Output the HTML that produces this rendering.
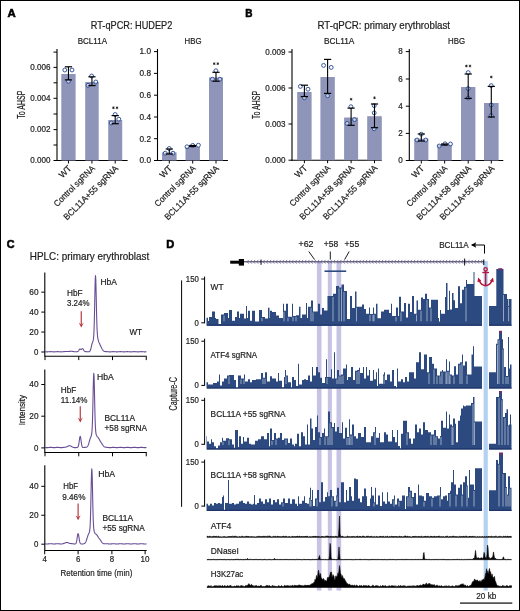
<!DOCTYPE html>
<html><head><meta charset="utf-8"><style>
html,body{margin:0;padding:0;background:#fff;}
svg{display:block;font-family:"Liberation Sans", sans-serif;will-change:transform;} text{stroke:#222;stroke-width:0.2px;}
</style></head><body>
<svg width="520" height="611" viewBox="0 0 520 611">
<rect x="0" y="0" width="520" height="611" fill="#fff"/>
<text x="7.6" y="16.9" font-size="10.50" text-anchor="start" font-weight="bold" fill="#000" textLength="8.2" lengthAdjust="spacingAndGlyphs" style="stroke:#000;stroke-width:0.55px">A</text>
<text x="245.2" y="16.9" font-size="10.00" text-anchor="start" font-weight="bold" fill="#000" style="stroke:#000;stroke-width:0.55px">B</text>
<text x="6.8" y="247.8" font-size="10.50" text-anchor="start" font-weight="bold" fill="#000" textLength="7.8" lengthAdjust="spacingAndGlyphs" style="stroke:#000;stroke-width:0.55px">C</text>
<text x="166.2" y="248.4" font-size="10.50" text-anchor="start" font-weight="bold" fill="#000" textLength="8" lengthAdjust="spacingAndGlyphs" style="stroke:#000;stroke-width:0.55px">D</text>
<text x="90.8" y="28.7" font-size="10.34" text-anchor="start" font-weight="normal" fill="#1a1a1a" textLength="81.5" lengthAdjust="spacingAndGlyphs" >RT-qPCR: HUDEP2</text>
<text x="317.5" y="28.7" font-size="10.34" text-anchor="start" font-weight="normal" fill="#1a1a1a" textLength="132.5" lengthAdjust="spacingAndGlyphs" >RT-qPCR: primary erythroblast</text>
<text x="77.7" y="44.2" font-size="8.80" text-anchor="start" font-weight="normal" fill="#1a1a1a" textLength="29.3" lengthAdjust="spacingAndGlyphs" >BCL11A</text>
<line x1="57" y1="49" x2="57" y2="161.0" stroke="#000" stroke-width="1.1"/>
<line x1="53.5" y1="52.1" x2="57" y2="52.1" stroke="#000" stroke-width="1"/>
<line x1="53.5" y1="67.4" x2="57" y2="67.4" stroke="#000" stroke-width="1"/>
<text x="50.5" y="70.2" font-size="8.58" text-anchor="end" font-weight="normal" fill="#1a1a1a" textLength="20.2" lengthAdjust="spacingAndGlyphs" >0.006</text>
<line x1="53.5" y1="82.8" x2="57" y2="82.8" stroke="#000" stroke-width="1"/>
<line x1="53.5" y1="98.3" x2="57" y2="98.3" stroke="#000" stroke-width="1"/>
<text x="50.5" y="101.1" font-size="8.58" text-anchor="end" font-weight="normal" fill="#1a1a1a" textLength="20.2" lengthAdjust="spacingAndGlyphs" >0.004</text>
<line x1="53.5" y1="114" x2="57" y2="114" stroke="#000" stroke-width="1"/>
<line x1="53.5" y1="129.6" x2="57" y2="129.6" stroke="#000" stroke-width="1"/>
<text x="50.5" y="132.4" font-size="8.58" text-anchor="end" font-weight="normal" fill="#1a1a1a" textLength="20.2" lengthAdjust="spacingAndGlyphs" >0.002</text>
<line x1="53.5" y1="145" x2="57" y2="145" stroke="#000" stroke-width="1"/>
<line x1="53.5" y1="160.5" x2="57" y2="160.5" stroke="#000" stroke-width="1"/>
<text x="50.5" y="163.3" font-size="8.58" text-anchor="end" font-weight="normal" fill="#1a1a1a" textLength="20.2" lengthAdjust="spacingAndGlyphs" >0.000</text>
<line x1="56.5" y1="160.5" x2="127.6" y2="160.5" stroke="#000" stroke-width="1.1"/>
<rect x="61.3" y="74" width="14.299999999999997" height="86.5" fill="#8e95b9"/>
<line x1="68.44999999999999" y1="160.5" x2="68.44999999999999" y2="163.5" stroke="#000" stroke-width="1"/>
<rect x="85.2" y="82" width="13.5" height="78.5" fill="#8e95b9"/>
<line x1="91.95" y1="160.5" x2="91.95" y2="163.5" stroke="#000" stroke-width="1"/>
<rect x="108.2" y="120" width="14.0" height="40.5" fill="#8e95b9"/>
<line x1="115.2" y1="160.5" x2="115.2" y2="163.5" stroke="#000" stroke-width="1"/>
<circle cx="64.8" cy="70" r="1.95" fill="#fff" fill-opacity="0.5" stroke="#2f4f97" stroke-width="0.95"/>
<circle cx="72" cy="70" r="1.95" fill="#fff" fill-opacity="0.5" stroke="#2f4f97" stroke-width="0.95"/>
<circle cx="68.4" cy="81.3" r="1.95" fill="#fff" fill-opacity="0.5" stroke="#2f4f97" stroke-width="0.95"/>
<circle cx="91.6" cy="76" r="1.95" fill="#fff" fill-opacity="0.5" stroke="#2f4f97" stroke-width="0.95"/>
<circle cx="95.8" cy="82" r="1.95" fill="#fff" fill-opacity="0.5" stroke="#2f4f97" stroke-width="0.95"/>
<circle cx="88" cy="85.3" r="1.95" fill="#fff" fill-opacity="0.5" stroke="#2f4f97" stroke-width="0.95"/>
<circle cx="115.2" cy="114.5" r="1.95" fill="#fff" fill-opacity="0.5" stroke="#2f4f97" stroke-width="0.95"/>
<circle cx="118.8" cy="119.2" r="1.95" fill="#fff" fill-opacity="0.5" stroke="#2f4f97" stroke-width="0.95"/>
<circle cx="111.2" cy="123" r="1.95" fill="#fff" fill-opacity="0.5" stroke="#2f4f97" stroke-width="0.95"/>
<line x1="68.44999999999999" y1="66.8" x2="68.44999999999999" y2="79.9" stroke="#000" stroke-width="1.1"/>
<line x1="64.85" y1="66.8" x2="72.04999999999998" y2="66.8" stroke="#000" stroke-width="1.2"/>
<line x1="64.85" y1="79.9" x2="72.04999999999998" y2="79.9" stroke="#000" stroke-width="1.2"/>
<line x1="91.95" y1="76.8" x2="91.95" y2="85.6" stroke="#000" stroke-width="1.1"/>
<line x1="88.35000000000001" y1="76.8" x2="95.55" y2="76.8" stroke="#000" stroke-width="1.2"/>
<line x1="88.35000000000001" y1="85.6" x2="95.55" y2="85.6" stroke="#000" stroke-width="1.2"/>
<line x1="115.2" y1="115.6" x2="115.2" y2="123.7" stroke="#000" stroke-width="1.1"/>
<line x1="111.60000000000001" y1="115.6" x2="118.8" y2="115.6" stroke="#000" stroke-width="1.2"/>
<line x1="111.60000000000001" y1="123.7" x2="118.8" y2="123.7" stroke="#000" stroke-width="1.2"/>
<path d="M113.40,106.45L113.40,109.15M112.23,107.12L114.57,108.47M114.57,107.12L112.23,108.47" stroke="#111" stroke-width="0.75"/>
<path d="M117.00,106.45L117.00,109.15M115.83,107.12L118.17,108.47M118.17,107.12L115.83,108.47" stroke="#111" stroke-width="0.75"/>
<text transform="translate(71.94999999999999,169.0) rotate(-45)" font-size="8.8" text-anchor="end" fill="#1a1a1a" textLength="13.5" lengthAdjust="spacingAndGlyphs">WT</text>
<text transform="translate(95.45,169.0) rotate(-45)" font-size="8.8" text-anchor="end" fill="#1a1a1a" textLength="54" lengthAdjust="spacingAndGlyphs">Control sgRNA</text>
<text transform="translate(118.7,169.0) rotate(-45)" font-size="8.8" text-anchor="end" fill="#1a1a1a" textLength="73" lengthAdjust="spacingAndGlyphs">BCL11A+55 sgRNA</text>
<text x="184.6" y="44.2" font-size="8.80" text-anchor="start" font-weight="normal" fill="#1a1a1a" textLength="17" lengthAdjust="spacingAndGlyphs" >HBG</text>
<line x1="157.5" y1="49" x2="157.5" y2="161.0" stroke="#000" stroke-width="1.1"/>
<line x1="154.0" y1="51.6" x2="157.5" y2="51.6" stroke="#000" stroke-width="1"/>
<text x="151.0" y="54.4" font-size="8.58" text-anchor="end" font-weight="normal" fill="#1a1a1a" textLength="11.5" lengthAdjust="spacingAndGlyphs" >1.0</text>
<line x1="154.0" y1="73.4" x2="157.5" y2="73.4" stroke="#000" stroke-width="1"/>
<text x="151.0" y="76.2" font-size="8.58" text-anchor="end" font-weight="normal" fill="#1a1a1a" textLength="11.5" lengthAdjust="spacingAndGlyphs" >0.8</text>
<line x1="154.0" y1="95.2" x2="157.5" y2="95.2" stroke="#000" stroke-width="1"/>
<text x="151.0" y="98.0" font-size="8.58" text-anchor="end" font-weight="normal" fill="#1a1a1a" textLength="11.5" lengthAdjust="spacingAndGlyphs" >0.6</text>
<line x1="154.0" y1="117" x2="157.5" y2="117" stroke="#000" stroke-width="1"/>
<text x="151.0" y="119.8" font-size="8.58" text-anchor="end" font-weight="normal" fill="#1a1a1a" textLength="11.5" lengthAdjust="spacingAndGlyphs" >0.4</text>
<line x1="154.0" y1="138.7" x2="157.5" y2="138.7" stroke="#000" stroke-width="1"/>
<text x="151.0" y="141.5" font-size="8.58" text-anchor="end" font-weight="normal" fill="#1a1a1a" textLength="11.5" lengthAdjust="spacingAndGlyphs" >0.2</text>
<line x1="154.0" y1="160.5" x2="157.5" y2="160.5" stroke="#000" stroke-width="1"/>
<text x="151.0" y="163.3" font-size="8.58" text-anchor="end" font-weight="normal" fill="#1a1a1a" textLength="11.5" lengthAdjust="spacingAndGlyphs" >0.0</text>
<line x1="157.0" y1="160.5" x2="227.9" y2="160.5" stroke="#000" stroke-width="1.1"/>
<rect x="162" y="152.5" width="14.599999999999994" height="8.0" fill="#8e95b9"/>
<line x1="169.3" y1="160.5" x2="169.3" y2="163.5" stroke="#000" stroke-width="1"/>
<rect x="185.5" y="147" width="14.400000000000006" height="13.5" fill="#8e95b9"/>
<line x1="192.7" y1="160.5" x2="192.7" y2="163.5" stroke="#000" stroke-width="1"/>
<rect x="209" y="77.5" width="14" height="83.0" fill="#8e95b9"/>
<line x1="216.0" y1="160.5" x2="216.0" y2="163.5" stroke="#000" stroke-width="1"/>
<circle cx="169.2" cy="148.5" r="1.95" fill="#fff" fill-opacity="0.5" stroke="#2f4f97" stroke-width="0.95"/>
<circle cx="165.2" cy="153.2" r="1.95" fill="#fff" fill-opacity="0.5" stroke="#2f4f97" stroke-width="0.95"/>
<circle cx="173" cy="153.2" r="1.95" fill="#fff" fill-opacity="0.5" stroke="#2f4f97" stroke-width="0.95"/>
<circle cx="187" cy="146.8" r="1.95" fill="#fff" fill-opacity="0.5" stroke="#2f4f97" stroke-width="0.95"/>
<circle cx="192.7" cy="145.4" r="1.95" fill="#fff" fill-opacity="0.5" stroke="#2f4f97" stroke-width="0.95"/>
<circle cx="198.4" cy="145.2" r="1.95" fill="#fff" fill-opacity="0.5" stroke="#2f4f97" stroke-width="0.95"/>
<circle cx="215.9" cy="70.8" r="1.95" fill="#fff" fill-opacity="0.5" stroke="#2f4f97" stroke-width="0.95"/>
<circle cx="212.4" cy="79.2" r="1.95" fill="#fff" fill-opacity="0.5" stroke="#2f4f97" stroke-width="0.95"/>
<circle cx="219.9" cy="79.2" r="1.95" fill="#fff" fill-opacity="0.5" stroke="#2f4f97" stroke-width="0.95"/>
<line x1="169.3" y1="149" x2="169.3" y2="154" stroke="#000" stroke-width="1.1"/>
<line x1="165.70000000000002" y1="149" x2="172.9" y2="149" stroke="#000" stroke-width="1.2"/>
<line x1="165.70000000000002" y1="154" x2="172.9" y2="154" stroke="#000" stroke-width="1.2"/>
<line x1="192.7" y1="145.5" x2="192.7" y2="146.5" stroke="#000" stroke-width="1.1"/>
<line x1="189.1" y1="145.5" x2="196.29999999999998" y2="145.5" stroke="#000" stroke-width="1.2"/>
<line x1="189.1" y1="146.5" x2="196.29999999999998" y2="146.5" stroke="#000" stroke-width="1.2"/>
<line x1="216.0" y1="72.3" x2="216.0" y2="81.2" stroke="#000" stroke-width="1.1"/>
<line x1="212.4" y1="72.3" x2="219.6" y2="72.3" stroke="#000" stroke-width="1.2"/>
<line x1="212.4" y1="81.2" x2="219.6" y2="81.2" stroke="#000" stroke-width="1.2"/>
<path d="M214.20,62.35L214.20,65.05M213.03,63.03L215.37,64.38M215.37,63.03L213.03,64.38" stroke="#111" stroke-width="0.75"/>
<path d="M217.80,62.35L217.80,65.05M216.63,63.03L218.97,64.38M218.97,63.03L216.63,64.38" stroke="#111" stroke-width="0.75"/>
<text transform="translate(172.8,169.0) rotate(-45)" font-size="8.8" text-anchor="end" fill="#1a1a1a" textLength="13.5" lengthAdjust="spacingAndGlyphs">WT</text>
<text transform="translate(196.2,169.0) rotate(-45)" font-size="8.8" text-anchor="end" fill="#1a1a1a" textLength="54" lengthAdjust="spacingAndGlyphs">Control sgRNA</text>
<text transform="translate(219.5,169.0) rotate(-45)" font-size="8.8" text-anchor="end" fill="#1a1a1a" textLength="73" lengthAdjust="spacingAndGlyphs">BCL11A+55 sgRNA</text>
<text x="324" y="44.2" font-size="8.80" text-anchor="start" font-weight="normal" fill="#1a1a1a" textLength="30.4" lengthAdjust="spacingAndGlyphs" >BCL11A</text>
<line x1="292" y1="49" x2="292" y2="160.7" stroke="#000" stroke-width="1.1"/>
<line x1="288.5" y1="52" x2="292" y2="52" stroke="#000" stroke-width="1"/>
<text x="285.5" y="54.8" font-size="8.58" text-anchor="end" font-weight="normal" fill="#1a1a1a" textLength="20.2" lengthAdjust="spacingAndGlyphs" >0.009</text>
<line x1="288.5" y1="88" x2="292" y2="88" stroke="#000" stroke-width="1"/>
<text x="285.5" y="90.8" font-size="8.58" text-anchor="end" font-weight="normal" fill="#1a1a1a" textLength="20.2" lengthAdjust="spacingAndGlyphs" >0.006</text>
<line x1="288.5" y1="124" x2="292" y2="124" stroke="#000" stroke-width="1"/>
<text x="285.5" y="126.8" font-size="8.58" text-anchor="end" font-weight="normal" fill="#1a1a1a" textLength="20.2" lengthAdjust="spacingAndGlyphs" >0.003</text>
<line x1="288.5" y1="160.2" x2="292" y2="160.2" stroke="#000" stroke-width="1"/>
<text x="285.5" y="163.0" font-size="8.58" text-anchor="end" font-weight="normal" fill="#1a1a1a" textLength="20.2" lengthAdjust="spacingAndGlyphs" >0.000</text>
<line x1="291.5" y1="160.2" x2="381.8" y2="160.2" stroke="#000" stroke-width="1.1"/>
<rect x="297.2" y="92" width="14.400000000000034" height="68.19999999999999" fill="#8e95b9"/>
<line x1="304.4" y1="160.2" x2="304.4" y2="163.2" stroke="#000" stroke-width="1"/>
<rect x="320.4" y="77" width="14.400000000000034" height="83.19999999999999" fill="#8e95b9"/>
<line x1="327.6" y1="160.2" x2="327.6" y2="163.2" stroke="#000" stroke-width="1"/>
<rect x="344.1" y="117.5" width="14.0" height="42.69999999999999" fill="#8e95b9"/>
<line x1="351.1" y1="160.2" x2="351.1" y2="163.2" stroke="#000" stroke-width="1"/>
<rect x="367.2" y="116.2" width="14.600000000000023" height="43.999999999999986" fill="#8e95b9"/>
<line x1="374.5" y1="160.2" x2="374.5" y2="163.2" stroke="#000" stroke-width="1"/>
<circle cx="300.4" cy="86.4" r="1.95" fill="#fff" fill-opacity="0.5" stroke="#2f4f97" stroke-width="0.95"/>
<circle cx="308" cy="89.2" r="1.95" fill="#fff" fill-opacity="0.5" stroke="#2f4f97" stroke-width="0.95"/>
<circle cx="304.4" cy="97.8" r="1.95" fill="#fff" fill-opacity="0.5" stroke="#2f4f97" stroke-width="0.95"/>
<circle cx="323.6" cy="65.4" r="1.95" fill="#fff" fill-opacity="0.5" stroke="#2f4f97" stroke-width="0.95"/>
<circle cx="331.2" cy="67.4" r="1.95" fill="#fff" fill-opacity="0.5" stroke="#2f4f97" stroke-width="0.95"/>
<circle cx="327.6" cy="95.8" r="1.95" fill="#fff" fill-opacity="0.5" stroke="#2f4f97" stroke-width="0.95"/>
<circle cx="350.9" cy="106.7" r="1.95" fill="#fff" fill-opacity="0.5" stroke="#2f4f97" stroke-width="0.95"/>
<circle cx="354.5" cy="119.6" r="1.95" fill="#fff" fill-opacity="0.5" stroke="#2f4f97" stroke-width="0.95"/>
<circle cx="347.1" cy="123.4" r="1.95" fill="#fff" fill-opacity="0.5" stroke="#2f4f97" stroke-width="0.95"/>
<circle cx="374.2" cy="105.6" r="1.95" fill="#fff" fill-opacity="0.5" stroke="#2f4f97" stroke-width="0.95"/>
<circle cx="374.2" cy="112.9" r="1.95" fill="#fff" fill-opacity="0.5" stroke="#2f4f97" stroke-width="0.95"/>
<circle cx="374.2" cy="128.8" r="1.95" fill="#fff" fill-opacity="0.5" stroke="#2f4f97" stroke-width="0.95"/>
<line x1="304.4" y1="85.2" x2="304.4" y2="96.6" stroke="#000" stroke-width="1.1"/>
<line x1="300.79999999999995" y1="85.2" x2="308.0" y2="85.2" stroke="#000" stroke-width="1.2"/>
<line x1="300.79999999999995" y1="96.6" x2="308.0" y2="96.6" stroke="#000" stroke-width="1.2"/>
<line x1="327.6" y1="59.4" x2="327.6" y2="93.4" stroke="#000" stroke-width="1.1"/>
<line x1="324.0" y1="59.4" x2="331.20000000000005" y2="59.4" stroke="#000" stroke-width="1.2"/>
<line x1="324.0" y1="93.4" x2="331.20000000000005" y2="93.4" stroke="#000" stroke-width="1.2"/>
<line x1="351.1" y1="108.1" x2="351.1" y2="125.3" stroke="#000" stroke-width="1.1"/>
<line x1="347.5" y1="108.1" x2="354.70000000000005" y2="108.1" stroke="#000" stroke-width="1.2"/>
<line x1="347.5" y1="125.3" x2="354.70000000000005" y2="125.3" stroke="#000" stroke-width="1.2"/>
<path d="M351.10,97.85L351.10,100.55M349.93,98.53L352.27,99.88M352.27,98.53L349.93,99.88" stroke="#111" stroke-width="0.75"/>
<line x1="374.5" y1="104" x2="374.5" y2="127.7" stroke="#000" stroke-width="1.1"/>
<line x1="370.9" y1="104" x2="378.1" y2="104" stroke="#000" stroke-width="1.2"/>
<line x1="370.9" y1="127.7" x2="378.1" y2="127.7" stroke="#000" stroke-width="1.2"/>
<path d="M374.50,96.45L374.50,99.15M373.33,97.12L375.67,98.47M375.67,97.12L373.33,98.47" stroke="#111" stroke-width="0.75"/>
<text transform="translate(307.9,168.7) rotate(-45)" font-size="8.8" text-anchor="end" fill="#1a1a1a" textLength="13.5" lengthAdjust="spacingAndGlyphs">WT</text>
<text transform="translate(331.1,168.7) rotate(-45)" font-size="8.8" text-anchor="end" fill="#1a1a1a" textLength="54" lengthAdjust="spacingAndGlyphs">Control sgRNA</text>
<text transform="translate(354.6,168.7) rotate(-45)" font-size="8.8" text-anchor="end" fill="#1a1a1a" textLength="73" lengthAdjust="spacingAndGlyphs">BCL11A+58 sgRNA</text>
<text transform="translate(378.0,168.7) rotate(-45)" font-size="8.8" text-anchor="end" fill="#1a1a1a" textLength="73" lengthAdjust="spacingAndGlyphs">BCL11A+55 sgRNA</text>
<text x="448" y="44.2" font-size="8.80" text-anchor="start" font-weight="normal" fill="#1a1a1a" textLength="17" lengthAdjust="spacingAndGlyphs" >HBG</text>
<line x1="409.3" y1="49" x2="409.3" y2="161.0" stroke="#000" stroke-width="1.1"/>
<line x1="405.8" y1="51.6" x2="409.3" y2="51.6" stroke="#000" stroke-width="1"/>
<text x="402.8" y="54.4" font-size="8.58" text-anchor="end" font-weight="normal" fill="#1a1a1a" textLength="4.5" lengthAdjust="spacingAndGlyphs" >8</text>
<line x1="405.8" y1="79" x2="409.3" y2="79" stroke="#000" stroke-width="1"/>
<text x="402.8" y="81.8" font-size="8.58" text-anchor="end" font-weight="normal" fill="#1a1a1a" textLength="4.5" lengthAdjust="spacingAndGlyphs" >6</text>
<line x1="405.8" y1="106.2" x2="409.3" y2="106.2" stroke="#000" stroke-width="1"/>
<text x="402.8" y="109.0" font-size="8.58" text-anchor="end" font-weight="normal" fill="#1a1a1a" textLength="4.5" lengthAdjust="spacingAndGlyphs" >4</text>
<line x1="405.8" y1="133.4" x2="409.3" y2="133.4" stroke="#000" stroke-width="1"/>
<text x="402.8" y="136.20000000000002" font-size="8.58" text-anchor="end" font-weight="normal" fill="#1a1a1a" textLength="4.5" lengthAdjust="spacingAndGlyphs" >2</text>
<line x1="405.8" y1="160.5" x2="409.3" y2="160.5" stroke="#000" stroke-width="1"/>
<text x="402.8" y="163.3" font-size="8.58" text-anchor="end" font-weight="normal" fill="#1a1a1a" textLength="4.5" lengthAdjust="spacingAndGlyphs" >0</text>
<line x1="408.8" y1="160.5" x2="503.3" y2="160.5" stroke="#000" stroke-width="1.1"/>
<rect x="414.2" y="138.7" width="14.199999999999989" height="21.80000000000001" fill="#8e95b9"/>
<line x1="421.29999999999995" y1="160.5" x2="421.29999999999995" y2="163.5" stroke="#000" stroke-width="1"/>
<rect x="437.5" y="144.7" width="14.300000000000011" height="15.800000000000011" fill="#8e95b9"/>
<line x1="444.65" y1="160.5" x2="444.65" y2="163.5" stroke="#000" stroke-width="1"/>
<rect x="461" y="87" width="14.399999999999977" height="73.5" fill="#8e95b9"/>
<line x1="468.2" y1="160.5" x2="468.2" y2="163.5" stroke="#000" stroke-width="1"/>
<rect x="484" y="103" width="14.600000000000023" height="57.5" fill="#8e95b9"/>
<line x1="491.3" y1="160.5" x2="491.3" y2="163.5" stroke="#000" stroke-width="1"/>
<circle cx="421.3" cy="134.2" r="1.95" fill="#fff" fill-opacity="0.5" stroke="#2f4f97" stroke-width="0.95"/>
<circle cx="417" cy="140" r="1.95" fill="#fff" fill-opacity="0.5" stroke="#2f4f97" stroke-width="0.95"/>
<circle cx="425.7" cy="140" r="1.95" fill="#fff" fill-opacity="0.5" stroke="#2f4f97" stroke-width="0.95"/>
<circle cx="439.2" cy="146" r="1.95" fill="#fff" fill-opacity="0.5" stroke="#2f4f97" stroke-width="0.95"/>
<circle cx="445" cy="143.8" r="1.95" fill="#fff" fill-opacity="0.5" stroke="#2f4f97" stroke-width="0.95"/>
<circle cx="450.5" cy="144" r="1.95" fill="#fff" fill-opacity="0.5" stroke="#2f4f97" stroke-width="0.95"/>
<circle cx="468.2" cy="72.6" r="1.95" fill="#fff" fill-opacity="0.5" stroke="#2f4f97" stroke-width="0.95"/>
<circle cx="468.2" cy="88.6" r="1.95" fill="#fff" fill-opacity="0.5" stroke="#2f4f97" stroke-width="0.95"/>
<circle cx="468.2" cy="98" r="1.95" fill="#fff" fill-opacity="0.5" stroke="#2f4f97" stroke-width="0.95"/>
<circle cx="491.2" cy="85.6" r="1.95" fill="#fff" fill-opacity="0.5" stroke="#2f4f97" stroke-width="0.95"/>
<circle cx="491.2" cy="105" r="1.95" fill="#fff" fill-opacity="0.5" stroke="#2f4f97" stroke-width="0.95"/>
<circle cx="491.2" cy="115.6" r="1.95" fill="#fff" fill-opacity="0.5" stroke="#2f4f97" stroke-width="0.95"/>
<line x1="421.29999999999995" y1="134" x2="421.29999999999995" y2="141" stroke="#000" stroke-width="1.1"/>
<line x1="417.69999999999993" y1="134" x2="424.9" y2="134" stroke="#000" stroke-width="1.2"/>
<line x1="417.69999999999993" y1="141" x2="424.9" y2="141" stroke="#000" stroke-width="1.2"/>
<line x1="444.65" y1="144" x2="444.65" y2="145" stroke="#000" stroke-width="1.1"/>
<line x1="441.04999999999995" y1="144" x2="448.25" y2="144" stroke="#000" stroke-width="1.2"/>
<line x1="441.04999999999995" y1="145" x2="448.25" y2="145" stroke="#000" stroke-width="1.2"/>
<line x1="468.2" y1="74" x2="468.2" y2="98.4" stroke="#000" stroke-width="1.1"/>
<line x1="464.59999999999997" y1="74" x2="471.8" y2="74" stroke="#000" stroke-width="1.2"/>
<line x1="464.59999999999997" y1="98.4" x2="471.8" y2="98.4" stroke="#000" stroke-width="1.2"/>
<path d="M466.40,64.65L466.40,67.35M465.23,65.33L467.57,66.67M467.57,65.33L465.23,66.67" stroke="#111" stroke-width="0.75"/>
<path d="M470.00,64.65L470.00,67.35M468.83,65.33L471.17,66.67M471.17,65.33L468.83,66.67" stroke="#111" stroke-width="0.75"/>
<line x1="491.3" y1="86.4" x2="491.3" y2="117" stroke="#000" stroke-width="1.1"/>
<line x1="487.7" y1="86.4" x2="494.90000000000003" y2="86.4" stroke="#000" stroke-width="1.2"/>
<line x1="487.7" y1="117" x2="494.90000000000003" y2="117" stroke="#000" stroke-width="1.2"/>
<path d="M491.30,75.65L491.30,78.35M490.13,76.33L492.47,77.67M492.47,76.33L490.13,77.67" stroke="#111" stroke-width="0.75"/>
<text transform="translate(424.79999999999995,169.0) rotate(-45)" font-size="8.8" text-anchor="end" fill="#1a1a1a" textLength="13.5" lengthAdjust="spacingAndGlyphs">WT</text>
<text transform="translate(448.15,169.0) rotate(-45)" font-size="8.8" text-anchor="end" fill="#1a1a1a" textLength="54" lengthAdjust="spacingAndGlyphs">Control sgRNA</text>
<text transform="translate(471.7,169.0) rotate(-45)" font-size="8.8" text-anchor="end" fill="#1a1a1a" textLength="73" lengthAdjust="spacingAndGlyphs">BCL11A+58 sgRNA</text>
<text transform="translate(494.8,169.0) rotate(-45)" font-size="8.8" text-anchor="end" fill="#1a1a1a" textLength="73" lengthAdjust="spacingAndGlyphs">BCL11A+55 sgRNA</text>
<text transform="translate(24.8,104.7) rotate(-90)" font-size="10.5" text-anchor="middle" fill="#1a1a1a" textLength="28" lengthAdjust="spacingAndGlyphs">To AHSP</text>
<text transform="translate(260.4,104.9) rotate(-90)" font-size="10.5" text-anchor="middle" fill="#1a1a1a" textLength="28" lengthAdjust="spacingAndGlyphs">To AHSP</text>
<text x="29.8" y="259.5" font-size="10.12" text-anchor="start" font-weight="normal" fill="#1a1a1a" textLength="119.4" lengthAdjust="spacingAndGlyphs" >HPLC: primary erythroblast</text>
<line x1="44.8" y1="272.5" x2="44.8" y2="356.3" stroke="#000" stroke-width="1.1"/>
<line x1="41.3" y1="352.0" x2="44.8" y2="352.0" stroke="#000" stroke-width="1"/>
<text x="38.5" y="354.8" font-size="8.58" text-anchor="end" font-weight="normal" fill="#1a1a1a" textLength="4.4" lengthAdjust="spacingAndGlyphs" >0</text>
<line x1="41.3" y1="332.05" x2="44.8" y2="332.05" stroke="#000" stroke-width="1"/>
<text x="38.5" y="334.85" font-size="8.58" text-anchor="end" font-weight="normal" fill="#1a1a1a" textLength="9.2" lengthAdjust="spacingAndGlyphs" >20</text>
<line x1="41.3" y1="312.1" x2="44.8" y2="312.1" stroke="#000" stroke-width="1"/>
<text x="38.5" y="314.90000000000003" font-size="8.58" text-anchor="end" font-weight="normal" fill="#1a1a1a" textLength="9.2" lengthAdjust="spacingAndGlyphs" >40</text>
<line x1="41.3" y1="292.15" x2="44.8" y2="292.15" stroke="#000" stroke-width="1"/>
<text x="38.5" y="294.95" font-size="8.58" text-anchor="end" font-weight="normal" fill="#1a1a1a" textLength="9.2" lengthAdjust="spacingAndGlyphs" >60</text>
<line x1="44.3" y1="356.3" x2="146.7" y2="356.3" stroke="#000" stroke-width="1.1"/>
<line x1="45" y1="356.3" x2="45" y2="360.1" stroke="#000" stroke-width="1"/>
<line x1="78.75" y1="356.3" x2="78.75" y2="360.1" stroke="#000" stroke-width="1"/>
<line x1="112.5" y1="356.3" x2="112.5" y2="360.1" stroke="#000" stroke-width="1"/>
<line x1="146.25" y1="356.3" x2="146.25" y2="360.1" stroke="#000" stroke-width="1"/>
<path d="M45.00,351.72 L45.25,351.74 L45.50,351.76 L45.75,351.78 L46.00,351.80 L46.25,351.82 L46.50,351.84 L46.75,351.84 L47.00,351.85 L47.25,351.85 L47.50,351.84 L47.75,351.83 L48.00,351.82 L48.25,351.80 L48.50,351.78 L48.75,351.76 L49.00,351.74 L49.25,351.72 L49.50,351.70 L49.75,351.68 L50.00,351.67 L50.25,351.66 L50.50,351.65 L50.75,351.65 L51.00,351.66 L51.25,351.67 L51.50,351.68 L51.75,351.70 L52.00,351.72 L52.25,351.74 L52.50,351.76 L52.75,351.78 L53.00,351.80 L53.25,351.82 L53.50,351.84 L53.75,351.85 L54.00,351.85 L54.25,351.85 L54.50,351.84 L54.75,351.83 L55.00,351.82 L55.25,351.80 L55.50,351.78 L55.75,351.76 L56.00,351.74 L56.25,351.72 L56.50,351.70 L56.75,351.68 L57.00,351.66 L57.25,351.66 L57.50,351.65 L57.75,351.65 L58.00,351.66 L58.25,351.67 L58.50,351.68 L58.75,351.70 L59.00,351.72 L59.25,351.74 L59.50,351.76 L59.75,351.79 L60.00,351.80 L60.25,351.82 L60.50,351.83 L60.75,351.84 L61.00,351.85 L61.25,351.84 L61.50,351.84 L61.75,351.82 L62.00,351.81 L62.25,351.79 L62.50,351.76 L62.75,351.74 L63.00,351.71 L63.25,351.68 L63.50,351.66 L63.75,351.63 L64.00,351.61 L64.25,351.59 L64.50,351.58 L64.75,351.57 L65.00,351.56 L65.25,351.55 L65.50,351.55 L65.75,351.56 L66.00,351.56 L66.25,351.56 L66.50,351.56 L66.75,351.57 L67.00,351.57 L67.25,351.56 L67.50,351.56 L67.75,351.55 L68.00,351.53 L68.25,351.51 L68.50,351.49 L68.75,351.47 L69.00,351.44 L69.25,351.41 L69.50,351.38 L69.75,351.36 L70.00,351.33 L70.25,351.31 L70.50,351.30 L70.75,351.29 L71.00,351.29 L71.25,351.29 L71.50,351.30 L71.75,351.32 L72.00,351.34 L72.25,351.37 L72.50,351.40 L72.75,351.44 L73.00,351.48 L73.25,351.52 L73.50,351.57 L73.75,351.61 L74.00,351.65 L74.25,351.68 L74.50,351.71 L74.75,351.73 L75.00,351.75 L75.25,351.76 L75.50,351.77 L75.75,351.77 L76.00,351.76 L76.25,351.75 L76.50,351.73 L76.75,351.71 L77.00,351.68 L77.25,351.63 L77.50,351.56 L77.75,351.45 L78.00,351.30 L78.25,351.08 L78.50,350.80 L78.75,350.46 L79.00,350.08 L79.25,349.70 L79.50,349.37 L79.75,349.14 L80.00,349.02 L80.25,349.04 L80.50,349.14 L80.75,349.27 L81.00,349.38 L81.25,349.40 L81.50,349.31 L81.75,349.13 L82.00,348.92 L82.25,348.73 L82.50,348.65 L82.75,348.71 L83.00,348.93 L83.25,349.28 L83.50,349.71 L83.75,350.15 L84.00,350.57 L84.25,350.92 L84.50,351.18 L84.75,351.37 L85.00,351.49 L85.25,351.56 L85.50,351.60 L85.75,351.63 L86.00,351.65 L86.25,351.67 L86.50,351.69 L86.75,351.71 L87.00,351.73 L87.25,351.75 L87.50,351.77 L87.75,351.79 L88.00,351.81 L88.25,351.82 L88.50,351.81 L88.75,351.80 L89.00,351.75 L89.25,351.66 L89.50,351.52 L89.75,351.28 L90.00,350.94 L90.25,350.45 L90.50,349.80 L90.75,349.00 L91.00,348.05 L91.25,347.01 L91.50,345.93 L91.75,344.89 L92.00,343.94 L92.25,343.13 L92.50,342.44 L92.75,341.82 L93.00,341.14 L93.25,340.17 L93.50,338.52 L93.75,335.60 L94.00,330.68 L94.25,323.09 L94.50,312.70 L94.75,300.40 L95.00,288.27 L95.25,279.15 L95.50,275.53 L95.75,278.43 L96.00,286.86 L96.25,298.38 L96.50,310.20 L96.75,320.26 L97.00,327.70 L97.25,332.65 L97.50,335.77 L97.75,337.74 L98.00,339.09 L98.25,340.11 L98.50,340.97 L98.75,341.72 L99.00,342.39 L99.25,343.00 L99.50,343.57 L99.75,344.12 L100.00,344.64 L100.25,345.16 L100.50,345.69 L100.75,346.21 L101.00,346.73 L101.25,347.25 L101.50,347.76 L101.75,348.26 L102.00,348.73 L102.25,349.17 L102.50,349.58 L102.75,349.95 L103.00,350.27 L103.25,350.55 L103.50,350.79 L103.75,350.99 L104.00,351.15 L104.25,351.28 L104.50,351.37 L104.75,351.45 L105.00,351.50 L105.25,351.54 L105.50,351.56 L105.75,351.58 L106.00,351.60 L106.25,351.61 L106.50,351.62 L106.75,351.63 L107.00,351.65 L107.25,351.67 L107.50,351.68 L107.75,351.71 L108.00,351.73 L108.25,351.75 L108.50,351.78 L108.75,351.80 L109.00,351.82 L109.25,351.83 L109.50,351.84 L109.75,351.85 L110.00,351.85 L110.25,351.85 L110.50,351.84 L110.75,351.83 L111.00,351.81 L111.25,351.79 L111.50,351.77 L111.75,351.75 L112.00,351.72 L112.25,351.70 L112.50,351.68 L112.75,351.67 L113.00,351.66 L113.25,351.65 L113.50,351.65 L113.75,351.65 L114.00,351.66 L114.25,351.68 L114.50,351.69 L114.75,351.71 L115.00,351.73 L115.25,351.76 L115.50,351.78 L115.75,351.80 L116.00,351.82 L116.25,351.83 L116.50,351.84 L116.75,351.85 L117.00,351.85 L117.25,351.85 L117.50,351.84 L117.75,351.82 L118.00,351.81 L118.25,351.79 L118.50,351.77 L118.75,351.74 L119.00,351.72 L119.25,351.70 L119.50,351.68 L119.75,351.67 L120.00,351.66 L120.25,351.65 L120.50,351.65 L120.75,351.66 L121.00,351.66 L121.25,351.68 L121.50,351.69 L121.75,351.71 L122.00,351.74 L122.25,351.76 L122.50,351.78 L122.75,351.80 L123.00,351.82 L123.25,351.83 L123.50,351.84 L123.75,351.85 L124.00,351.85 L124.25,351.85 L124.50,351.84 L124.75,351.82 L125.00,351.81 L125.25,351.79 L125.50,351.77 L125.75,351.74 L126.00,351.72 L126.25,351.70 L126.50,351.68 L126.75,351.67 L127.00,351.66 L127.25,351.65 L127.50,351.65 L127.75,351.66 L128.00,351.66 L128.25,351.68 L128.50,351.70 L128.75,351.72 L129.00,351.74 L129.25,351.76 L129.50,351.78 L129.75,351.80 L130.00,351.82 L130.25,351.83 L130.50,351.84 L130.75,351.85 L131.00,351.85 L131.25,351.85 L131.50,351.84 L131.75,351.82 L132.00,351.81 L132.25,351.79 L132.50,351.76 L132.75,351.74 L133.00,351.72 L133.25,351.70 L133.50,351.68 L133.75,351.67 L134.00,351.66 L134.25,351.65 L134.50,351.65 L134.75,351.66 L135.00,351.67 L135.25,351.68 L135.50,351.70 L135.75,351.72 L136.00,351.74 L136.25,351.76 L136.50,351.78 L136.75,351.80 L137.00,351.82 L137.25,351.83 L137.50,351.84 L137.75,351.85 L138.00,351.85 L138.25,351.84 L138.50,351.84 L138.75,351.82 L139.00,351.80 L139.25,351.78 L139.50,351.76 L139.75,351.74 L140.00,351.72 L140.25,351.70 L140.50,351.68 L140.75,351.67 L141.00,351.66 L141.25,351.65 L141.50,351.65 L141.75,351.66 L142.00,351.67 L142.25,351.68 L142.50,351.70 L142.75,351.72 L143.00,351.74 L143.25,351.76 L143.50,351.78 L143.75,351.80 L144.00,351.82 L144.25,351.84 L144.50,351.85 L144.75,351.85 L145.00,351.85 L145.25,351.84 L145.50,351.83 L145.75,351.82 L146.00,351.80 L146.25,351.78 L146.50,351.76" fill="none" stroke="#684d95" stroke-width="1.1" stroke-linejoin="round"/>
<text x="100.5" y="285" font-size="8.80" text-anchor="start" font-weight="normal" fill="#1a1a1a" textLength="16.5" lengthAdjust="spacingAndGlyphs" >HbA</text>
<text x="67" y="296" font-size="8.80" text-anchor="start" font-weight="normal" fill="#1a1a1a" textLength="15.5" lengthAdjust="spacingAndGlyphs" >HbF</text>
<text x="67" y="306" font-size="8.80" text-anchor="start" font-weight="normal" fill="#1a1a1a" textLength="22.5" lengthAdjust="spacingAndGlyphs" >3.24%</text>
<text x="129.5" y="335" font-size="8.80" text-anchor="start" font-weight="normal" fill="#1a1a1a" textLength="12.5" lengthAdjust="spacingAndGlyphs" >WT</text>
<line x1="81.25" y1="311.3" x2="81.25" y2="324.5" stroke="#b02a30" stroke-width="1.1"/>
<path d="M78.75,322.5 L81.25,327.5 L83.75,322.5 L81.25,324.7Z" fill="#b02a30"/>
<line x1="44.8" y1="369.5" x2="44.8" y2="452.5" stroke="#000" stroke-width="1.1"/>
<line x1="41.3" y1="447.9" x2="44.8" y2="447.9" stroke="#000" stroke-width="1"/>
<text x="38.5" y="450.7" font-size="8.58" text-anchor="end" font-weight="normal" fill="#1a1a1a" textLength="4.4" lengthAdjust="spacingAndGlyphs" >0</text>
<line x1="41.3" y1="416.2" x2="44.8" y2="416.2" stroke="#000" stroke-width="1"/>
<text x="38.5" y="419.0" font-size="8.58" text-anchor="end" font-weight="normal" fill="#1a1a1a" textLength="9.2" lengthAdjust="spacingAndGlyphs" >20</text>
<line x1="41.3" y1="384.5" x2="44.8" y2="384.5" stroke="#000" stroke-width="1"/>
<text x="38.5" y="387.3" font-size="8.58" text-anchor="end" font-weight="normal" fill="#1a1a1a" textLength="9.2" lengthAdjust="spacingAndGlyphs" >40</text>
<line x1="44.3" y1="452.5" x2="146.7" y2="452.5" stroke="#000" stroke-width="1.1"/>
<line x1="45" y1="452.5" x2="45" y2="456.3" stroke="#000" stroke-width="1"/>
<line x1="78.75" y1="452.5" x2="78.75" y2="456.3" stroke="#000" stroke-width="1"/>
<line x1="112.5" y1="452.5" x2="112.5" y2="456.3" stroke="#000" stroke-width="1"/>
<line x1="146.25" y1="452.5" x2="146.25" y2="456.3" stroke="#000" stroke-width="1"/>
<path d="M45.00,447.45 L45.25,447.49 L45.50,447.52 L45.75,447.56 L46.00,447.59 L46.25,447.62 L46.50,447.64 L46.75,447.65 L47.00,447.66 L47.25,447.66 L47.50,447.65 L47.75,447.64 L48.00,447.62 L48.25,447.59 L48.50,447.56 L48.75,447.52 L49.00,447.49 L49.25,447.45 L49.50,447.42 L49.75,447.39 L50.00,447.37 L50.25,447.35 L50.50,447.35 L50.75,447.35 L51.00,447.35 L51.25,447.37 L51.50,447.39 L51.75,447.42 L52.00,447.45 L52.25,447.49 L52.50,447.52 L52.75,447.56 L53.00,447.59 L53.25,447.62 L53.50,447.64 L53.75,447.65 L54.00,447.66 L54.25,447.66 L54.50,447.65 L54.75,447.64 L55.00,447.61 L55.25,447.59 L55.50,447.55 L55.75,447.52 L56.00,447.48 L56.25,447.45 L56.50,447.42 L56.75,447.39 L57.00,447.37 L57.25,447.35 L57.50,447.35 L57.75,447.35 L58.00,447.36 L58.25,447.37 L58.50,447.39 L58.75,447.42 L59.00,447.46 L59.25,447.49 L59.50,447.53 L59.75,447.56 L60.00,447.59 L60.25,447.62 L60.50,447.64 L60.75,447.66 L61.00,447.66 L61.25,447.66 L61.50,447.65 L61.75,447.63 L62.00,447.61 L62.25,447.58 L62.50,447.55 L62.75,447.51 L63.00,447.47 L63.25,447.44 L63.50,447.40 L63.75,447.37 L64.00,447.34 L64.25,447.31 L64.50,447.28 L64.75,447.26 L65.00,447.23 L65.25,447.20 L65.50,447.17 L65.75,447.12 L66.00,447.07 L66.25,447.00 L66.50,446.91 L66.75,446.81 L67.00,446.69 L67.25,446.56 L67.50,446.42 L67.75,446.28 L68.00,446.14 L68.25,446.01 L68.50,445.89 L68.75,445.79 L69.00,445.72 L69.25,445.68 L69.50,445.67 L69.75,445.70 L70.00,445.75 L70.25,445.84 L70.50,445.95 L70.75,446.07 L71.00,446.21 L71.25,446.36 L71.50,446.50 L71.75,446.65 L72.00,446.79 L72.25,446.92 L72.50,447.04 L72.75,447.16 L73.00,447.26 L73.25,447.34 L73.50,447.42 L73.75,447.49 L74.00,447.54 L74.25,447.59 L74.50,447.62 L74.75,447.64 L75.00,447.65 L75.25,447.65 L75.50,447.65 L75.75,447.63 L76.00,447.61 L76.25,447.58 L76.50,447.54 L76.75,447.50 L77.00,447.45 L77.25,447.39 L77.50,447.29 L77.75,447.11 L78.00,446.80 L78.25,446.29 L78.50,445.48 L78.75,444.32 L79.00,442.80 L79.25,441.02 L79.50,439.20 L79.75,437.64 L80.00,436.64 L80.25,436.42 L80.50,437.04 L80.75,438.36 L81.00,440.12 L81.25,442.01 L81.50,443.74 L81.75,445.14 L82.00,446.16 L82.25,446.83 L82.50,447.22 L82.75,447.43 L83.00,447.52 L83.25,447.54 L83.50,447.53 L83.75,447.50 L84.00,447.47 L84.25,447.44 L84.50,447.40 L84.75,447.38 L85.00,447.35 L85.25,447.33 L85.50,447.31 L85.75,447.29 L86.00,447.26 L86.25,447.22 L86.50,447.16 L86.75,447.06 L87.00,446.91 L87.25,446.70 L87.50,446.41 L87.75,446.03 L88.00,445.54 L88.25,444.96 L88.50,444.27 L88.75,443.50 L89.00,442.66 L89.25,441.78 L89.50,440.89 L89.75,440.02 L90.00,439.20 L90.25,438.44 L90.50,437.75 L90.75,437.11 L91.00,436.48 L91.25,435.79 L91.50,434.88 L91.75,433.43 L92.00,430.94 L92.25,426.72 L92.50,420.05 L92.75,410.64 L93.00,399.10 L93.25,387.23 L93.50,377.73 L93.75,373.21 L94.00,375.00 L94.25,382.52 L94.50,393.58 L94.75,405.38 L95.00,415.69 L95.25,423.43 L95.50,428.58 L95.75,431.73 L96.00,433.57 L96.25,434.67 L96.50,435.38 L96.75,435.89 L97.00,436.28 L97.25,436.59 L97.50,436.87 L97.75,437.14 L98.00,437.41 L98.25,437.71 L98.50,438.05 L98.75,438.42 L99.00,438.83 L99.25,439.27 L99.50,439.74 L99.75,440.21 L100.00,440.68 L100.25,441.13 L100.50,441.57 L100.75,441.99 L101.00,442.40 L101.25,442.78 L101.50,443.16 L101.75,443.54 L102.00,443.91 L102.25,444.28 L102.50,444.65 L102.75,445.01 L103.00,445.36 L103.25,445.70 L103.50,446.00 L103.75,446.28 L104.00,446.52 L104.25,446.72 L104.50,446.88 L104.75,447.01 L105.00,447.10 L105.25,447.17 L105.50,447.22 L105.75,447.25 L106.00,447.28 L106.25,447.29 L106.50,447.31 L106.75,447.33 L107.00,447.35 L107.25,447.38 L107.50,447.40 L107.75,447.44 L108.00,447.47 L108.25,447.51 L108.50,447.54 L108.75,447.58 L109.00,447.61 L109.25,447.63 L109.50,447.65 L109.75,447.66 L110.00,447.66 L110.25,447.66 L110.50,447.64 L110.75,447.62 L111.00,447.60 L111.25,447.57 L111.50,447.53 L111.75,447.50 L112.00,447.46 L112.25,447.43 L112.50,447.40 L112.75,447.38 L113.00,447.36 L113.25,447.35 L113.50,447.35 L113.75,447.35 L114.00,447.36 L114.25,447.38 L114.50,447.41 L114.75,447.44 L115.00,447.48 L115.25,447.51 L115.50,447.55 L115.75,447.58 L116.00,447.61 L116.25,447.63 L116.50,447.65 L116.75,447.66 L117.00,447.66 L117.25,447.66 L117.50,447.64 L117.75,447.62 L118.00,447.60 L118.25,447.56 L118.50,447.53 L118.75,447.49 L119.00,447.46 L119.25,447.43 L119.50,447.40 L119.75,447.37 L120.00,447.36 L120.25,447.35 L120.50,447.35 L120.75,447.35 L121.00,447.37 L121.25,447.39 L121.50,447.41 L121.75,447.44 L122.00,447.48 L122.25,447.51 L122.50,447.55 L122.75,447.58 L123.00,447.61 L123.25,447.63 L123.50,447.65 L123.75,447.66 L124.00,447.66 L124.25,447.66 L124.50,447.64 L124.75,447.62 L125.00,447.59 L125.25,447.56 L125.50,447.53 L125.75,447.49 L126.00,447.46 L126.25,447.42 L126.50,447.40 L126.75,447.37 L127.00,447.36 L127.25,447.35 L127.50,447.35 L127.75,447.35 L128.00,447.37 L128.25,447.39 L128.50,447.42 L128.75,447.45 L129.00,447.48 L129.25,447.52 L129.50,447.55 L129.75,447.58 L130.00,447.61 L130.25,447.64 L130.50,447.65 L130.75,447.66 L131.00,447.66 L131.25,447.65 L131.50,447.64 L131.75,447.62 L132.00,447.59 L132.25,447.56 L132.50,447.52 L132.75,447.49 L133.00,447.45 L133.25,447.42 L133.50,447.39 L133.75,447.37 L134.00,447.35 L134.25,447.35 L134.50,447.35 L134.75,447.35 L135.00,447.37 L135.25,447.39 L135.50,447.42 L135.75,447.45 L136.00,447.48 L136.25,447.52 L136.50,447.55 L136.75,447.59 L137.00,447.61 L137.25,447.64 L137.50,447.65 L137.75,447.66 L138.00,447.66 L138.25,447.65 L138.50,447.64 L138.75,447.62 L139.00,447.59 L139.25,447.56 L139.50,447.52 L139.75,447.49 L140.00,447.45 L140.25,447.42 L140.50,447.39 L140.75,447.37 L141.00,447.35 L141.25,447.35 L141.50,447.35 L141.75,447.35 L142.00,447.37 L142.25,447.39 L142.50,447.42 L142.75,447.45 L143.00,447.49 L143.25,447.52 L143.50,447.56 L143.75,447.59 L144.00,447.62 L144.25,447.64 L144.50,447.65 L144.75,447.66 L145.00,447.66 L145.25,447.65 L145.50,447.64 L145.75,447.61 L146.00,447.59 L146.25,447.55 L146.50,447.52" fill="none" stroke="#684d95" stroke-width="1.1" stroke-linejoin="round"/>
<text x="97" y="380" font-size="8.80" text-anchor="start" font-weight="normal" fill="#1a1a1a" textLength="16.7" lengthAdjust="spacingAndGlyphs" >HbA</text>
<text x="60.8" y="393" font-size="8.80" text-anchor="start" font-weight="normal" fill="#1a1a1a" textLength="15.5" lengthAdjust="spacingAndGlyphs" >HbF</text>
<text x="60.8" y="403" font-size="8.80" text-anchor="start" font-weight="normal" fill="#1a1a1a" textLength="26.7" lengthAdjust="spacingAndGlyphs" >11.14%</text>
<text x="104.5" y="421" font-size="8.80" text-anchor="start" font-weight="normal" fill="#1a1a1a" textLength="30.5" lengthAdjust="spacingAndGlyphs" >BCL11A</text>
<text x="104.5" y="431" font-size="8.80" text-anchor="start" font-weight="normal" fill="#1a1a1a" textLength="42.5" lengthAdjust="spacingAndGlyphs" >+58 sgRNA</text>
<line x1="80.25" y1="406.3" x2="80.25" y2="419.5" stroke="#b02a30" stroke-width="1.1"/>
<path d="M77.75,417.5 L80.25,422.5 L82.75,417.5 L80.25,419.7Z" fill="#b02a30"/>
<line x1="44.8" y1="465.3" x2="44.8" y2="550.5" stroke="#000" stroke-width="1.1"/>
<line x1="41.3" y1="544.2" x2="44.8" y2="544.2" stroke="#000" stroke-width="1"/>
<text x="38.5" y="547.0" font-size="8.58" text-anchor="end" font-weight="normal" fill="#1a1a1a" textLength="4.4" lengthAdjust="spacingAndGlyphs" >0</text>
<line x1="41.3" y1="515.25" x2="44.8" y2="515.25" stroke="#000" stroke-width="1"/>
<text x="38.5" y="518.05" font-size="8.58" text-anchor="end" font-weight="normal" fill="#1a1a1a" textLength="9.2" lengthAdjust="spacingAndGlyphs" >20</text>
<line x1="41.3" y1="486.30000000000007" x2="44.8" y2="486.30000000000007" stroke="#000" stroke-width="1"/>
<text x="38.5" y="489.1000000000001" font-size="8.58" text-anchor="end" font-weight="normal" fill="#1a1a1a" textLength="9.2" lengthAdjust="spacingAndGlyphs" >40</text>
<line x1="44.3" y1="550.5" x2="146.7" y2="550.5" stroke="#000" stroke-width="1.1"/>
<line x1="44.7" y1="550.5" x2="44.7" y2="554.3" stroke="#000" stroke-width="1"/>
<line x1="78.1" y1="550.5" x2="78.1" y2="554.3" stroke="#000" stroke-width="1"/>
<line x1="111.9" y1="550.5" x2="111.9" y2="554.3" stroke="#000" stroke-width="1"/>
<line x1="145.1" y1="550.5" x2="145.1" y2="554.3" stroke="#000" stroke-width="1"/>
<path d="M45.00,543.79 L45.25,543.82 L45.50,543.85 L45.75,543.89 L46.00,543.91 L46.25,543.94 L46.50,543.96 L46.75,543.97 L47.00,543.98 L47.25,543.98 L47.50,543.97 L47.75,543.96 L48.00,543.94 L48.25,543.91 L48.50,543.89 L48.75,543.85 L49.00,543.82 L49.25,543.79 L49.50,543.76 L49.75,543.74 L50.00,543.71 L50.25,543.70 L50.50,543.69 L50.75,543.69 L51.00,543.70 L51.25,543.72 L51.50,543.74 L51.75,543.76 L52.00,543.79 L52.25,543.82 L52.50,543.86 L52.75,543.89 L53.00,543.92 L53.25,543.94 L53.50,543.96 L53.75,543.98 L54.00,543.98 L54.25,543.98 L54.50,543.97 L54.75,543.96 L55.00,543.94 L55.25,543.91 L55.50,543.88 L55.75,543.85 L56.00,543.82 L56.25,543.79 L56.50,543.76 L56.75,543.73 L57.00,543.71 L57.25,543.70 L57.50,543.69 L57.75,543.69 L58.00,543.70 L58.25,543.72 L58.50,543.74 L58.75,543.76 L59.00,543.79 L59.25,543.83 L59.50,543.86 L59.75,543.89 L60.00,543.92 L60.25,543.94 L60.50,543.96 L60.75,543.97 L61.00,543.98 L61.25,543.97 L61.50,543.96 L61.75,543.94 L62.00,543.91 L62.25,543.87 L62.50,543.83 L62.75,543.77 L63.00,543.71 L63.25,543.64 L63.50,543.56 L63.75,543.48 L64.00,543.38 L64.25,543.29 L64.50,543.18 L64.75,543.08 L65.00,542.97 L65.25,542.87 L65.50,542.77 L65.75,542.67 L66.00,542.60 L66.25,542.53 L66.50,542.49 L66.75,542.47 L67.00,542.48 L67.25,542.50 L67.50,542.55 L67.75,542.62 L68.00,542.71 L68.25,542.80 L68.50,542.90 L68.75,543.01 L69.00,543.11 L69.25,543.20 L69.50,543.28 L69.75,543.36 L70.00,543.42 L70.25,543.47 L70.50,543.51 L70.75,543.54 L71.00,543.57 L71.25,543.60 L71.50,543.62 L71.75,543.64 L72.00,543.67 L72.25,543.70 L72.50,543.73 L72.75,543.76 L73.00,543.79 L73.25,543.83 L73.50,543.86 L73.75,543.89 L74.00,543.92 L74.25,543.95 L74.50,543.96 L74.75,543.97 L75.00,543.96 L75.25,543.91 L75.50,543.81 L75.75,543.62 L76.00,543.27 L76.25,542.68 L76.50,541.79 L76.75,540.55 L77.00,539.01 L77.25,537.29 L77.50,535.64 L77.75,534.33 L78.00,533.64 L78.25,533.71 L78.50,534.51 L78.75,535.89 L79.00,537.56 L79.25,539.24 L79.50,540.72 L79.75,541.88 L80.00,542.71 L80.25,543.25 L80.50,543.58 L80.75,543.76 L81.00,543.87 L81.25,543.93 L81.50,543.96 L81.75,543.98 L82.00,543.98 L82.25,543.98 L82.50,543.97 L82.75,543.95 L83.00,543.92 L83.25,543.88 L83.50,543.83 L83.75,543.77 L84.00,543.69 L84.25,543.59 L84.50,543.45 L84.75,543.28 L85.00,543.06 L85.25,542.76 L85.50,542.40 L85.75,541.94 L86.00,541.40 L86.25,540.76 L86.50,540.05 L86.75,539.26 L87.00,538.44 L87.25,537.60 L87.50,536.79 L87.75,536.02 L88.00,535.31 L88.25,534.68 L88.50,534.11 L88.75,533.59 L89.00,533.08 L89.25,532.47 L89.50,531.62 L89.75,530.19 L90.00,527.69 L90.25,523.40 L90.50,516.62 L90.75,507.03 L91.00,495.28 L91.25,483.20 L91.50,473.53 L91.75,468.92 L92.00,470.73 L92.25,478.37 L92.50,489.60 L92.75,501.61 L93.00,512.12 L93.25,520.03 L93.50,525.31 L93.75,528.55 L94.00,530.47 L94.25,531.63 L94.50,532.37 L94.75,532.89 L95.00,533.26 L95.25,533.54 L95.50,533.76 L95.75,533.95 L96.00,534.12 L96.25,534.31 L96.50,534.54 L96.75,534.81 L97.00,535.12 L97.25,535.47 L97.50,535.86 L97.75,536.27 L98.00,536.69 L98.25,537.10 L98.50,537.50 L98.75,537.88 L99.00,538.24 L99.25,538.58 L99.50,538.91 L99.75,539.23 L100.00,539.55 L100.25,539.89 L100.50,540.23 L100.75,540.59 L101.00,540.96 L101.25,541.33 L101.50,541.70 L101.75,542.06 L102.00,542.40 L102.25,542.70 L102.50,542.97 L102.75,543.20 L103.00,543.39 L103.25,543.53 L103.50,543.64 L103.75,543.72 L104.00,543.76 L104.25,543.79 L104.50,543.79 L104.75,543.79 L105.00,543.77 L105.25,543.75 L105.50,543.73 L105.75,543.72 L106.00,543.70 L106.25,543.69 L106.50,543.69 L106.75,543.70 L107.00,543.71 L107.25,543.73 L107.50,543.75 L107.75,543.78 L108.00,543.81 L108.25,543.84 L108.50,543.88 L108.75,543.91 L109.00,543.93 L109.25,543.95 L109.50,543.97 L109.75,543.98 L110.00,543.98 L110.25,543.98 L110.50,543.97 L110.75,543.95 L111.00,543.92 L111.25,543.90 L111.50,543.86 L111.75,543.83 L112.00,543.80 L112.25,543.77 L112.50,543.74 L112.75,543.72 L113.00,543.70 L113.25,543.70 L113.50,543.69 L113.75,543.70 L114.00,543.71 L114.25,543.73 L114.50,543.75 L114.75,543.78 L115.00,543.81 L115.25,543.85 L115.50,543.88 L115.75,543.91 L116.00,543.93 L116.25,543.96 L116.50,543.97 L116.75,543.98 L117.00,543.98 L117.25,543.98 L117.50,543.96 L117.75,543.95 L118.00,543.92 L118.25,543.89 L118.50,543.86 L118.75,543.83 L119.00,543.80 L119.25,543.77 L119.50,543.74 L119.75,543.72 L120.00,543.70 L120.25,543.70 L120.50,543.69 L120.75,543.70 L121.00,543.71 L121.25,543.73 L121.50,543.76 L121.75,543.78 L122.00,543.82 L122.25,543.85 L122.50,543.88 L122.75,543.91 L123.00,543.94 L123.25,543.96 L123.50,543.97 L123.75,543.98 L124.00,543.98 L124.25,543.98 L124.50,543.96 L124.75,543.94 L125.00,543.92 L125.25,543.89 L125.50,543.86 L125.75,543.83 L126.00,543.79 L126.25,543.77 L126.50,543.74 L126.75,543.72 L127.00,543.70 L127.25,543.69 L127.50,543.69 L127.75,543.70 L128.00,543.71 L128.25,543.73 L128.50,543.76 L128.75,543.79 L129.00,543.82 L129.25,543.85 L129.50,543.88 L129.75,543.91 L130.00,543.94 L130.25,543.96 L130.50,543.97 L130.75,543.98 L131.00,543.98 L131.25,543.98 L131.50,543.96 L131.75,543.94 L132.00,543.92 L132.25,543.89 L132.50,543.86 L132.75,543.82 L133.00,543.79 L133.25,543.76 L133.50,543.74 L133.75,543.72 L134.00,543.70 L134.25,543.69 L134.50,543.69 L134.75,543.70 L135.00,543.71 L135.25,543.73 L135.50,543.76 L135.75,543.79 L136.00,543.82 L136.25,543.85 L136.50,543.88 L136.75,543.91 L137.00,543.94 L137.25,543.96 L137.50,543.97 L137.75,543.98 L138.00,543.98 L138.25,543.97 L138.50,543.96 L138.75,543.94 L139.00,543.92 L139.25,543.89 L139.50,543.85 L139.75,543.82 L140.00,543.79 L140.25,543.76 L140.50,543.74 L140.75,543.72 L141.00,543.70 L141.25,543.69 L141.50,543.69 L141.75,543.70 L142.00,543.72 L142.25,543.74 L142.50,543.76 L142.75,543.79 L143.00,543.82 L143.25,543.86 L143.50,543.89 L143.75,543.92 L144.00,543.94 L144.25,543.96 L144.50,543.98 L144.75,543.98 L145.00,543.98 L145.25,543.97 L145.50,543.96 L145.75,543.94 L146.00,543.91 L146.25,543.88 L146.50,543.85" fill="none" stroke="#684d95" stroke-width="1.1" stroke-linejoin="round"/>
<text x="98.2" y="476.8" font-size="8.80" text-anchor="start" font-weight="normal" fill="#1a1a1a" textLength="16.9" lengthAdjust="spacingAndGlyphs" >HbA</text>
<text x="63.3" y="489.4" font-size="8.80" text-anchor="start" font-weight="normal" fill="#1a1a1a" textLength="14.8" lengthAdjust="spacingAndGlyphs" >HbF</text>
<text x="62.2" y="500" font-size="8.80" text-anchor="start" font-weight="normal" fill="#1a1a1a" textLength="23.3" lengthAdjust="spacingAndGlyphs" >9.46%</text>
<text x="102.4" y="520.5" font-size="8.80" text-anchor="start" font-weight="normal" fill="#1a1a1a" textLength="30.7" lengthAdjust="spacingAndGlyphs" >BCL11A</text>
<text x="102.4" y="531.1" font-size="8.80" text-anchor="start" font-weight="normal" fill="#1a1a1a" textLength="42.3" lengthAdjust="spacingAndGlyphs" >+55 sgRNA</text>
<line x1="78.1" y1="503.4" x2="78.1" y2="517.3" stroke="#b02a30" stroke-width="1.1"/>
<path d="M75.6,515.3 L78.1,520.3 L80.6,515.3 L78.1,517.5Z" fill="#b02a30"/>
<text x="44.7" y="562" font-size="8.80" text-anchor="middle" font-weight="normal" fill="#1a1a1a" textLength="4.4" lengthAdjust="spacingAndGlyphs" >4</text>
<text x="78.1" y="562" font-size="8.80" text-anchor="middle" font-weight="normal" fill="#1a1a1a" textLength="4.4" lengthAdjust="spacingAndGlyphs" >6</text>
<text x="111.9" y="562" font-size="8.80" text-anchor="middle" font-weight="normal" fill="#1a1a1a" textLength="4.4" lengthAdjust="spacingAndGlyphs" >8</text>
<text x="145.1" y="562" font-size="8.80" text-anchor="middle" font-weight="normal" fill="#1a1a1a" textLength="9" lengthAdjust="spacingAndGlyphs" >10</text>
<text x="60.6" y="575.5" font-size="9.90" text-anchor="start" font-weight="normal" fill="#1a1a1a" textLength="71.7" lengthAdjust="spacingAndGlyphs" >Retention time (min)</text>
<text transform="translate(24.5,410) rotate(-90)" font-size="9.5" text-anchor="middle" fill="#1a1a1a" textLength="30.3" lengthAdjust="spacingAndGlyphs">Intensity</text>
<rect x="316.9" y="262" width="4.600000000000023" height="328.6" fill="#c7c3e4"/>
<rect x="327.8" y="262" width="4.099999999999966" height="328.6" fill="#c7c3e4"/>
<rect x="336.5" y="262" width="4.699999999999989" height="328.6" fill="#c7c3e4"/>
<rect x="483.6" y="261" width="4.2" height="329.6" fill="#b3d2f1"/>
<line x1="230.2" y1="262.2" x2="239" y2="262.2" stroke="#000" stroke-width="3"/>
<rect x="238.8" y="259" width="5.2" height="6.6" fill="#000"/>
<line x1="244" y1="261.8" x2="484" y2="261.8" stroke="#111" stroke-width="0.9"/>
<path d="M248.7,259.9 L247.0,261.8 L248.7,263.7 M251.9,259.9 L250.2,261.8 L251.9,263.7 M255.1,259.9 L253.4,261.8 L255.1,263.7 M258.3,259.9 L256.6,261.8 L258.3,263.7 M261.5,259.9 L259.8,261.8 L261.5,263.7 M264.7,259.9 L263.0,261.8 L264.7,263.7 M267.9,259.9 L266.2,261.8 L267.9,263.7 M271.1,259.9 L269.4,261.8 L271.1,263.7 M274.3,259.9 L272.6,261.8 L274.3,263.7 M277.5,259.9 L275.8,261.8 L277.5,263.7 M280.7,259.9 L279.0,261.8 L280.7,263.7 M283.9,259.9 L282.2,261.8 L283.9,263.7 M287.1,259.9 L285.4,261.8 L287.1,263.7 M290.3,259.9 L288.6,261.8 L290.3,263.7 M293.5,259.9 L291.8,261.8 L293.5,263.7 M296.7,259.9 L295.0,261.8 L296.7,263.7 M299.9,259.9 L298.2,261.8 L299.9,263.7 M303.1,259.9 L301.4,261.8 L303.1,263.7 M306.3,259.9 L304.6,261.8 L306.3,263.7 M309.5,259.9 L307.8,261.8 L309.5,263.7 M312.7,259.9 L311.0,261.8 L312.7,263.7 M315.9,259.9 L314.2,261.8 L315.9,263.7 M319.1,259.9 L317.4,261.8 L319.1,263.7 M322.3,259.9 L320.6,261.8 L322.3,263.7 M325.5,259.9 L323.8,261.8 L325.5,263.7 M328.7,259.9 L327.0,261.8 L328.7,263.7 M331.9,259.9 L330.2,261.8 L331.9,263.7 M335.1,259.9 L333.4,261.8 L335.1,263.7 M338.3,259.9 L336.6,261.8 L338.3,263.7 M341.5,259.9 L339.8,261.8 L341.5,263.7 M344.7,259.9 L343.0,261.8 L344.7,263.7 M347.9,259.9 L346.2,261.8 L347.9,263.7 M351.1,259.9 L349.4,261.8 L351.1,263.7 M354.3,259.9 L352.6,261.8 L354.3,263.7 M357.5,259.9 L355.8,261.8 L357.5,263.7 M360.7,259.9 L359.0,261.8 L360.7,263.7 M363.9,259.9 L362.2,261.8 L363.9,263.7 M367.1,259.9 L365.4,261.8 L367.1,263.7 M370.3,259.9 L368.6,261.8 L370.3,263.7 M373.5,259.9 L371.8,261.8 L373.5,263.7 M376.7,259.9 L375.0,261.8 L376.7,263.7 M379.9,259.9 L378.2,261.8 L379.9,263.7 M383.1,259.9 L381.4,261.8 L383.1,263.7 M386.3,259.9 L384.6,261.8 L386.3,263.7 M389.5,259.9 L387.8,261.8 L389.5,263.7 M392.7,259.9 L391.0,261.8 L392.7,263.7 M395.9,259.9 L394.2,261.8 L395.9,263.7 M399.1,259.9 L397.4,261.8 L399.1,263.7 M402.3,259.9 L400.6,261.8 L402.3,263.7 M405.5,259.9 L403.8,261.8 L405.5,263.7 M408.7,259.9 L407.0,261.8 L408.7,263.7 M411.9,259.9 L410.2,261.8 L411.9,263.7 M415.1,259.9 L413.4,261.8 L415.1,263.7 M418.3,259.9 L416.6,261.8 L418.3,263.7 M421.5,259.9 L419.8,261.8 L421.5,263.7 M424.7,259.9 L423.0,261.8 L424.7,263.7 M427.9,259.9 L426.2,261.8 L427.9,263.7 M431.1,259.9 L429.4,261.8 L431.1,263.7 M434.3,259.9 L432.6,261.8 L434.3,263.7 M437.5,259.9 L435.8,261.8 L437.5,263.7 M440.7,259.9 L439.0,261.8 L440.7,263.7 M443.9,259.9 L442.2,261.8 L443.9,263.7 M447.1,259.9 L445.4,261.8 L447.1,263.7 M450.3,259.9 L448.6,261.8 L450.3,263.7 M453.5,259.9 L451.8,261.8 L453.5,263.7 M456.7,259.9 L455.0,261.8 L456.7,263.7 M459.9,259.9 L458.2,261.8 L459.9,263.7 M463.1,259.9 L461.4,261.8 L463.1,263.7 M466.3,259.9 L464.6,261.8 L466.3,263.7 M469.5,259.9 L467.8,261.8 L469.5,263.7 M472.7,259.9 L471.0,261.8 L472.7,263.7 M475.9,259.9 L474.2,261.8 L475.9,263.7 M479.1,259.9 L477.4,261.8 L479.1,263.7 M482.3,259.9 L480.6,261.8 L482.3,263.7" fill="none" stroke="#6b63b0" stroke-width="0.8"/>
<line x1="261" y1="259.5" x2="261" y2="265" stroke="#000" stroke-width="0.8"/>
<line x1="464.6" y1="258.5" x2="464.6" y2="265.5" stroke="#000" stroke-width="0.9"/>
<text x="298.5" y="247.2" font-size="8.80" text-anchor="start" font-weight="normal" fill="#1a1a1a" textLength="15" lengthAdjust="spacingAndGlyphs" >+62</text>
<text x="323.8" y="247.2" font-size="8.80" text-anchor="start" font-weight="normal" fill="#1a1a1a" textLength="14.4" lengthAdjust="spacingAndGlyphs" >+58</text>
<text x="344.6" y="247.2" font-size="8.80" text-anchor="start" font-weight="normal" fill="#1a1a1a" textLength="14.6" lengthAdjust="spacingAndGlyphs" >+55</text>
<line x1="308.8" y1="251.5" x2="314.6" y2="259.6" stroke="#000" stroke-width="0.9"/>
<line x1="330.3" y1="251.5" x2="330.3" y2="259.6" stroke="#000" stroke-width="0.9"/>
<line x1="349.2" y1="251.5" x2="344.6" y2="259.6" stroke="#000" stroke-width="0.9"/>
<line x1="324.5" y1="271.2" x2="346.2" y2="271.2" stroke="#2c4a80" stroke-width="1.6"/>
<text x="439.2" y="248" font-size="8.80" text-anchor="start" font-weight="normal" fill="#1a1a1a" textLength="29.6" lengthAdjust="spacingAndGlyphs" >BCL11A</text>
<path d="M484.5,253.6 L484.5,245 L471.8,245" fill="none" stroke="#000" stroke-width="1"/>
<path d="M476.2,242.2 L471,245 L476.2,247.8 L475.2,245Z" fill="#000"/>
<line x1="204.6" y1="276.5" x2="204.6" y2="323.3" stroke="#000" stroke-width="1"/>
<line x1="201.3" y1="279" x2="204.6" y2="279" stroke="#000" stroke-width="1"/>
<line x1="201.3" y1="322.8" x2="204.6" y2="322.8" stroke="#000" stroke-width="1"/>
<text x="198.8" y="281.8" font-size="8.58" text-anchor="end" font-weight="normal" fill="#1a1a1a" textLength="13" lengthAdjust="spacingAndGlyphs" >150</text>
<text x="198.8" y="325.6" font-size="8.58" text-anchor="end" font-weight="normal" fill="#1a1a1a" textLength="4.3" lengthAdjust="spacingAndGlyphs" >0</text>
<text x="210.6" y="290" font-size="8.80" text-anchor="start" font-weight="normal" fill="#1a1a1a" textLength="13" lengthAdjust="spacingAndGlyphs" >WT</text>
<path d="M206.5,317.7H208.0V325.8H206.5Z M208.0,321.0H209.0V325.8H208.0Z M209.0,317.0H212.0V325.8H209.0Z M212.0,311.5H215.0V325.8H212.0Z M215.0,318.0H216.0V325.8H215.0Z M216.0,319.0H218.5V325.8H216.0Z M218.5,324.0H221.0V325.8H218.5Z M221.0,314.6H224.0V325.8H221.0Z M224.0,313.0H228.0V325.8H224.0Z M228.0,318.0H229.0V325.8H228.0Z M229.0,310.0H232.0V325.8H229.0Z M232.0,320.8H235.0V325.8H232.0Z M235.0,317.0H237.0V325.8H235.0Z M237.0,311.5H239.0V325.8H237.0Z M239.0,318.0H240.0V325.8H239.0Z M240.0,313.8H244.0V325.8H240.0Z M244.0,318.5H246.0V325.8H244.0Z M246.0,306.0H247.0V325.8H246.0Z M247.0,318.0H248.0V325.8H247.0Z M248.0,310.8H250.0V325.8H248.0Z M250.0,320.8H252.0V325.8H250.0Z M252.0,310.8H255.0V325.8H252.0Z M255.0,321.5H259.0V325.8H255.0Z M259.0,310.0H262.0V325.8H259.0Z M262.0,317.0H265.0V325.8H262.0Z M265.0,318.5H268.0V325.8H265.0Z M268.0,307.7H269.5V325.8H268.0Z M269.5,318.0H270.0V325.8H269.5Z M270.0,310.8H272.0V325.8H270.0Z M272.0,312.0H276.0V325.8H272.0Z M276.0,315.4H279.0V325.8H276.0Z M279.0,318.0H283.0V325.8H279.0Z M283.0,303.8H284.0V325.8H283.0Z M284.0,310.8H286.0V325.8H284.0Z M286.0,303.7H288.0V325.8H286.0Z M288.0,316.8H292.0V325.8H288.0Z M292.0,303.7H293.0V325.8H292.0Z M293.0,316.0H296.0V325.8H293.0Z M296.0,315.2H299.0V325.8H296.0Z M299.0,306.8H300.5V325.8H299.0Z M300.5,318.0H302.0V325.8H300.5Z M302.0,314.5H306.0V325.8H302.0Z M306.0,303.0H307.0V325.8H306.0Z M307.0,318.0H308.0V325.8H307.0Z M308.0,306.8H311.0V325.8H308.0Z M311.0,300.6H313.0V325.8H311.0Z M313.0,311.4H318.0V325.8H313.0Z M318.0,303.7H320.0V325.8H318.0Z M320.0,314.5H322.0V325.8H320.0Z M322.0,308.0H324.0V325.8H322.0Z M324.0,310.6H327.5V325.8H324.0Z M327.5,296.0H333.0V325.8H327.5Z M333.0,293.7H336.0V325.8H333.0Z M336.0,286.0H339.0V325.8H336.0Z M339.0,287.5H341.5V325.8H339.0Z M341.5,284.5H344.0V325.8H341.5Z M344.0,291.0H347.0V325.8H344.0Z M347.0,319.0H350.0V325.8H347.0Z M350.0,296.0H352.0V325.8H350.0Z M352.0,308.0H355.0V325.8H352.0Z M355.0,291.4H356.5V325.8H355.0Z M356.5,306.8H362.0V325.8H356.5Z M362.0,304.5H364.0V325.8H362.0Z M364.0,309.0H366.0V325.8H364.0Z M366.0,313.7H369.0V325.8H366.0Z M369.0,307.5H370.0V325.8H369.0Z M370.0,314.0H373.0V325.8H370.0Z M373.0,307.5H374.0V325.8H373.0Z M374.0,313.7H376.0V325.8H374.0Z M376.0,303.7H377.5V325.8H376.0Z M377.5,318.3H381.0V325.8H377.5Z M381.0,311.4H384.0V325.8H381.0Z M384.0,309.8H389.0V325.8H384.0Z M389.0,313.0H391.0V325.8H389.0Z M391.0,303.7H392.0V325.8H391.0Z M392.0,316.0H396.0V325.8H392.0Z M396.0,307.5H398.0V325.8H396.0Z M398.0,316.0H399.0V325.8H398.0Z M399.0,296.8H401.0V325.8H399.0Z M401.0,311.4H404.0V325.8H401.0Z M404.0,303.0H406.0V325.8H404.0Z M406.0,317.5H408.0V325.8H406.0Z M408.0,303.7H410.0V325.8H408.0Z M410.0,312.0H412.0V325.8H410.0Z M412.0,296.0H414.0V325.8H412.0Z M414.0,313.7H416.5V325.8H414.0Z M416.5,300.6H418.0V325.8H416.5Z M418.0,309.8H421.0V325.8H418.0Z M421.0,297.5H423.0V325.8H421.0Z M423.0,299.0H425.0V325.8H423.0Z M425.0,293.7H427.0V325.8H425.0Z M427.0,299.0H429.0V325.8H427.0Z M429.0,307.5H431.0V325.8H429.0Z M431.0,299.8H438.0V325.8H431.0Z M438.0,318.0H439.0V325.8H438.0Z M439.0,321.4H440.0V325.8H439.0Z M440.0,309.9H441.0V325.8H440.0Z M441.0,313.75H445.0V325.8H441.0Z M445.0,297.0H446.0V325.8H445.0Z M446.0,283.0H447.5V325.8H446.0Z M447.5,310.0H449.0V325.8H447.5Z M449.0,290.7H450.0V325.8H449.0Z M450.0,309.4H452.0V325.8H450.0Z M452.0,293.0H453.5V325.8H452.0Z M453.5,300.3H455.0V325.8H453.5Z M455.0,308.0H458.0V325.8H455.0Z M458.0,286.3H460.0V325.8H458.0Z M460.0,303.2H462.0V325.8H460.0Z M462.0,289.7H464.0V325.8H462.0Z M464.0,286.8H466.0V325.8H464.0Z M466.0,280.0H467.0V325.8H466.0Z M467.0,284.0H473.5V325.8H467.0Z M473.5,272.0H474.5V325.8H473.5Z M474.5,296.0H482.0V325.8H474.5Z M489.0,306.0H496.3V325.8H489.0Z M496.3,269.0H503.5V325.8H496.3Z M503.5,294.0H507.0V325.8H503.5Z M507.0,299.0H508.0V325.8H507.0Z M508.0,306.0H508.6V325.8H508.0Z M508.6,299.0H511.5V325.8H508.6Z" fill="#2c4a80"/>
<path d="M207,325.2H482M489,325.2H511.5" stroke="#1f3569" stroke-width="1.2"/>
<path d="M224.0,315.6V321.3 M262.0,318.0V321.3 M284.0,311.8V321.3 M288.0,317.8V321.3 M293.0,317.0V321.3 M296.0,317.0V321.3 M311.0,307.8V321.3 M313.0,312.4V321.3 M333.0,297.0V321.3 M339.0,288.5V321.3 M341.5,288.5V321.3 M344.0,292.0V321.3 M356.5,307.8V321.3 M370.0,315.0V321.3 M373.0,315.0V321.3 M374.0,314.7V321.3 M396.0,317.0V321.3 M401.0,312.4V321.3 M416.5,314.7V321.3 M421.0,310.8V321.3 M427.0,300.0V321.3 M431.0,308.5V321.3 M466.0,287.8V321.3 M503.5,295.0V321.3 M508.6,307.0V321.3" stroke="#fff" stroke-width="0.6" opacity="0.85"/>
<rect x="498.3" y="268.2" width="4" height="2.2" fill="#6e2f6e"/>
<line x1="204.6" y1="338.7" x2="204.6" y2="385.9" stroke="#000" stroke-width="1"/>
<line x1="201.3" y1="341.2" x2="204.6" y2="341.2" stroke="#000" stroke-width="1"/>
<line x1="201.3" y1="385.4" x2="204.6" y2="385.4" stroke="#000" stroke-width="1"/>
<text x="198.8" y="344.0" font-size="8.58" text-anchor="end" font-weight="normal" fill="#1a1a1a" textLength="13" lengthAdjust="spacingAndGlyphs" >150</text>
<text x="198.8" y="388.2" font-size="8.58" text-anchor="end" font-weight="normal" fill="#1a1a1a" textLength="4.3" lengthAdjust="spacingAndGlyphs" >0</text>
<text x="210.6" y="358" font-size="8.80" text-anchor="start" font-weight="normal" fill="#1a1a1a" textLength="46.4" lengthAdjust="spacingAndGlyphs" >ATF4 sgRNA</text>
<path d="M206.5,382.3H208.0V388.5H206.5Z M208.0,384.6H213.0V388.5H208.0Z M213.0,383.0H217.0V388.5H213.0Z M217.0,381.5H219.0V388.5H217.0Z M219.0,374.6H220.0V388.5H219.0Z M220.0,385.4H222.0V388.5H220.0Z M222.0,381.5H224.0V388.5H222.0Z M224.0,378.5H227.0V388.5H224.0Z M227.0,375.4H229.0V388.5H227.0Z M229.0,375.0H234.0V388.5H229.0Z M234.0,380.0H236.0V388.5H234.0Z M236.0,388.0H238.0V388.5H236.0Z M238.0,375.4H241.0V388.5H238.0Z M241.0,378.5H244.0V388.5H241.0Z M244.0,374.6H245.0V388.5H244.0Z M245.0,381.5H248.0V388.5H245.0Z M248.0,379.2H250.0V388.5H248.0Z M250.0,382.3H252.0V388.5H250.0Z M252.0,380.0H256.0V388.5H252.0Z M256.0,379.2H261.0V388.5H256.0Z M261.0,373.0H263.0V388.5H261.0Z M263.0,377.7H265.0V388.5H263.0Z M265.0,372.3H267.0V388.5H265.0Z M267.0,381.5H270.0V388.5H267.0Z M270.0,376.2H272.0V388.5H270.0Z M272.0,378.5H276.0V388.5H272.0Z M276.0,381.5H278.0V388.5H276.0Z M278.0,373.0H279.0V388.5H278.0Z M279.0,380.8H282.0V388.5H279.0Z M282.0,387.7H284.0V388.5H282.0Z M284.0,377.0H285.0V388.5H284.0Z M285.0,370.0H286.0V388.5H285.0Z M286.0,375.4H288.0V388.5H286.0Z M288.0,382.3H291.0V388.5H288.0Z M291.0,388.0H292.0V388.5H291.0Z M292.0,377.0H294.0V388.5H292.0Z M294.0,380.0H296.0V388.5H294.0Z M296.0,386.0H298.0V388.5H296.0Z M298.0,363.8H299.0V388.5H298.0Z M299.0,384.6H302.0V388.5H299.0Z M302.0,380.0H304.0V388.5H302.0Z M304.0,379.2H306.0V388.5H304.0Z M306.0,380.0H308.0V388.5H306.0Z M308.0,375.4H310.0V388.5H308.0Z M310.0,381.5H312.0V388.5H310.0Z M312.0,367.0H313.0V388.5H312.0Z M313.0,375.4H316.0V388.5H313.0Z M316.0,367.0H318.0V388.5H316.0Z M318.0,372.3H320.0V388.5H318.0Z M320.0,377.7H322.0V388.5H320.0Z M322.0,383.0H325.0V388.5H322.0Z M325.0,377.0H326.0V388.5H325.0Z M326.0,359.2H327.0V388.5H326.0Z M327.0,377.0H331.0V388.5H327.0Z M331.0,369.2H332.0V388.5H331.0Z M332.0,378.5H334.0V388.5H332.0Z M334.0,352.3H335.0V388.5H334.0Z M335.0,378.5H337.0V388.5H335.0Z M337.0,370.0H339.0V388.5H337.0Z M339.0,375.4H341.0V388.5H339.0Z M341.0,374.6H343.0V388.5H341.0Z M343.0,368.5H346.0V388.5H343.0Z M346.0,364.6H347.0V388.5H346.0Z M347.0,380.0H348.0V388.5H347.0Z M348.0,377.0H351.0V388.5H348.0Z M351.0,367.0H353.0V388.5H351.0Z M353.0,380.0H355.0V388.5H353.0Z M355.0,370.8H357.0V388.5H355.0Z M357.0,370.0H359.0V388.5H357.0Z M359.0,367.7H360.0V388.5H359.0Z M360.0,373.0H363.0V388.5H360.0Z M363.0,367.0H364.0V388.5H363.0Z M364.0,378.5H366.0V388.5H364.0Z M366.0,367.0H367.0V388.5H366.0Z M367.0,375.4H369.0V388.5H367.0Z M369.0,370.0H370.0V388.5H369.0Z M370.0,380.8H373.0V388.5H370.0Z M373.0,370.0H374.0V388.5H373.0Z M374.0,379.2H376.0V388.5H374.0Z M376.0,372.3H377.0V388.5H376.0Z M377.0,386.0H378.0V388.5H377.0Z M378.0,368.5H379.0V388.5H378.0Z M379.0,383.8H383.0V388.5H379.0Z M383.0,374.6H384.0V388.5H383.0Z M384.0,372.3H385.0V388.5H384.0Z M385.0,380.0H387.0V388.5H385.0Z M387.0,374.6H390.0V388.5H387.0Z M390.0,381.5H392.0V388.5H390.0Z M392.0,370.0H394.0V388.5H392.0Z M394.0,386.0H396.0V388.5H394.0Z M396.0,388.0H397.0V388.5H396.0Z M397.0,368.5H398.0V388.5H397.0Z M398.0,381.5H401.0V388.5H398.0Z M401.0,379.2H403.0V388.5H401.0Z M403.0,382.3H405.0V388.5H403.0Z M405.0,377.0H407.0V388.5H405.0Z M407.0,381.5H409.0V388.5H407.0Z M409.0,372.3H414.0V388.5H409.0Z M414.0,378.5H416.0V388.5H414.0Z M416.0,362.3H419.0V388.5H416.0Z M419.0,352.3H421.0V388.5H419.0Z M421.0,369.2H424.0V388.5H421.0Z M424.0,354.6H427.0V388.5H424.0Z M427.0,372.3H429.0V388.5H427.0Z M429.0,357.0H432.0V388.5H429.0Z M432.0,363.8H434.0V388.5H432.0Z M434.0,368.5H437.0V388.5H434.0Z M437.0,375.4H440.0V388.5H437.0Z M440.0,371.5H442.0V388.5H440.0Z M442.0,370.0H443.0V388.5H442.0Z M443.0,371.5H446.0V388.5H443.0Z M446.0,359.2H447.0V388.5H446.0Z M447.0,370.8H449.0V388.5H447.0Z M449.0,361.5H450.0V388.5H449.0Z M450.0,374.6H452.0V388.5H450.0Z M452.0,375.4H454.0V388.5H452.0Z M454.0,366.2H456.0V388.5H454.0Z M456.0,374.6H458.0V388.5H456.0Z M458.0,363.8H460.0V388.5H458.0Z M460.0,362.3H462.0V388.5H460.0Z M462.0,354.6H463.0V388.5H462.0Z M463.0,365.4H465.0V388.5H463.0Z M465.0,361.5H467.0V388.5H465.0Z M467.0,374.6H471.5V388.5H467.0Z M471.5,354.6H473.0V388.5H471.5Z M473.0,346.2H474.0V388.5H473.0Z M474.0,366.6H482.0V388.5H474.0Z M489.0,372.3H496.0V388.5H489.0Z M496.0,343.8H497.5V388.5H496.0Z M497.5,339.2H499.0V388.5H497.5Z M499.0,331.5H502.0V388.5H499.0Z M502.0,339.2H503.0V388.5H502.0Z M503.0,348.5H504.0V388.5H503.0Z M504.0,367.0H506.0V388.5H504.0Z M506.0,376.0H508.0V388.5H506.0Z M508.0,337.0H509.0V388.5H508.0Z M509.0,368.5H510.0V388.5H509.0Z M510.0,364.6H511.5V388.5H510.0Z" fill="#2c4a80"/>
<path d="M207,387.9H482M489,387.9H511.5" stroke="#1f3569" stroke-width="1.2"/>
<path d="M229.0,376.4V384.0 M241.0,379.5V384.0 M244.0,379.5V384.0 M263.0,378.7V384.0 M265.0,378.7V384.0 M286.0,376.4V384.0 M327.0,378.0V384.0 M337.0,379.5V384.0 M339.0,376.4V384.0 M341.0,376.4V384.0 M343.0,375.6V384.0 M357.0,371.8V384.0 M359.0,371.0V384.0 M384.0,375.6V384.0 M429.0,373.3V384.0 M434.0,369.5V384.0 M437.0,376.4V384.0 M440.0,376.4V384.0 M442.0,372.5V384.0 M446.0,372.5V384.0 M447.0,371.8V384.0 M449.0,371.8V384.0 M450.0,375.6V384.0 M454.0,376.4V384.0 M460.0,364.8V384.0 M462.0,363.3V384.0 M467.0,375.6V384.0 M497.5,344.8V384.0 M499.0,340.2V384.0 M503.0,349.5V384.0 M506.0,377.0V384.0 M508.0,377.0V384.0" stroke="#fff" stroke-width="0.6" opacity="0.85"/>
<rect x="499" y="330.8" width="3" height="2.2" fill="#6e2f6e"/>
<line x1="204.6" y1="397.8" x2="204.6" y2="444.8" stroke="#000" stroke-width="1"/>
<line x1="201.3" y1="400.3" x2="204.6" y2="400.3" stroke="#000" stroke-width="1"/>
<line x1="201.3" y1="444.3" x2="204.6" y2="444.3" stroke="#000" stroke-width="1"/>
<text x="198.8" y="403.1" font-size="8.58" text-anchor="end" font-weight="normal" fill="#1a1a1a" textLength="13" lengthAdjust="spacingAndGlyphs" >150</text>
<text x="198.8" y="447.1" font-size="8.58" text-anchor="end" font-weight="normal" fill="#1a1a1a" textLength="4.3" lengthAdjust="spacingAndGlyphs" >0</text>
<text x="210.6" y="417" font-size="8.80" text-anchor="start" font-weight="normal" fill="#1a1a1a" textLength="75" lengthAdjust="spacingAndGlyphs" >BCL11A +55 sgRNA</text>
<path d="M206.5,436.2H207.0V449.5H206.5Z M207.0,441.5H209.0V449.5H207.0Z M209.0,443.8H211.0V449.5H209.0Z M211.0,439.2H212.0V449.5H211.0Z M212.0,442.3H214.0V449.5H212.0Z M214.0,446.2H216.0V449.5H214.0Z M216.0,448.5H218.0V449.5H216.0Z M218.0,445.4H220.0V449.5H218.0Z M220.0,442.3H222.0V449.5H220.0Z M222.0,437.7H223.0V449.5H222.0Z M223.0,440.8H226.0V449.5H223.0Z M226.0,438.2H229.0V449.5H226.0Z M229.0,439.2H232.0V449.5H229.0Z M232.0,444.6H234.0V449.5H232.0Z M234.0,447.7H235.0V449.5H234.0Z M235.0,430.0H238.0V449.5H235.0Z M238.0,447.0H239.0V449.5H238.0Z M239.0,436.2H241.0V449.5H239.0Z M241.0,443.8H243.0V449.5H241.0Z M243.0,437.0H244.0V449.5H243.0Z M244.0,441.5H247.0V449.5H244.0Z M247.0,437.7H249.0V449.5H247.0Z M249.0,443.8H251.0V449.5H249.0Z M251.0,444.6H255.0V449.5H251.0Z M255.0,440.8H258.0V449.5H255.0Z M258.0,439.2H261.0V449.5H258.0Z M261.0,436.2H264.0V449.5H261.0Z M264.0,439.2H267.0V449.5H264.0Z M267.0,433.0H269.0V449.5H267.0Z M269.0,446.2H270.0V449.5H269.0Z M270.0,428.5H272.0V449.5H270.0Z M272.0,440.0H274.0V449.5H272.0Z M274.0,433.0H276.0V449.5H274.0Z M276.0,438.5H278.0V449.5H276.0Z M278.0,437.7H280.0V449.5H278.0Z M280.0,433.0H282.0V449.5H280.0Z M282.0,440.0H284.0V449.5H282.0Z M284.0,438.5H286.0V449.5H284.0Z M286.0,438.5H288.0V449.5H286.0Z M288.0,443.0H290.0V449.5H288.0Z M290.0,438.5H292.0V449.5H290.0Z M292.0,444.6H294.0V449.5H292.0Z M294.0,446.2H295.0V449.5H294.0Z M295.0,443.8H297.0V449.5H295.0Z M297.0,433.8H299.0V449.5H297.0Z M299.0,446.2H301.0V449.5H299.0Z M301.0,432.3H303.0V449.5H301.0Z M303.0,436.2H305.0V449.5H303.0Z M305.0,444.6H307.0V449.5H305.0Z M307.0,424.6H308.0V449.5H307.0Z M308.0,444.6H310.0V449.5H308.0Z M310.0,418.5H311.5V449.5H310.0Z M311.5,428.5H313.0V449.5H311.5Z M313.0,440.0H315.0V449.5H313.0Z M315.0,427.0H317.0V449.5H315.0Z M317.0,415.4H318.0V449.5H317.0Z M318.0,432.3H320.0V449.5H318.0Z M320.0,437.0H322.0V449.5H320.0Z M322.0,433.0H324.0V449.5H322.0Z M324.0,428.5H325.0V449.5H324.0Z M325.0,436.2H328.0V449.5H325.0Z M328.0,411.5H330.0V449.5H328.0Z M330.0,422.3H332.0V449.5H330.0Z M332.0,427.0H334.0V449.5H332.0Z M334.0,423.0H335.0V449.5H334.0Z M335.0,431.5H337.0V449.5H335.0Z M337.0,427.0H339.0V449.5H337.0Z M339.0,433.0H342.0V449.5H339.0Z M342.0,422.3H343.0V449.5H342.0Z M343.0,438.5H345.0V449.5H343.0Z M345.0,427.7H347.0V449.5H345.0Z M347.0,437.0H349.0V449.5H347.0Z M349.0,419.2H350.0V449.5H349.0Z M350.0,434.6H352.0V449.5H350.0Z M352.0,424.6H354.0V449.5H352.0Z M354.0,436.2H356.0V449.5H354.0Z M356.0,438.5H358.0V449.5H356.0Z M358.0,433.0H361.0V449.5H358.0Z M361.0,437.0H364.0V449.5H361.0Z M364.0,427.0H366.0V449.5H364.0Z M366.0,442.3H371.0V449.5H366.0Z M371.0,436.2H373.0V449.5H371.0Z M373.0,432.3H375.0V449.5H373.0Z M375.0,427.0H376.0V449.5H375.0Z M376.0,437.7H379.0V449.5H376.0Z M379.0,433.0H380.0V449.5H379.0Z M380.0,442.3H384.0V449.5H380.0Z M384.0,432.3H386.0V449.5H384.0Z M386.0,434.6H388.0V449.5H386.0Z M388.0,441.5H392.0V449.5H388.0Z M392.0,430.0H393.0V449.5H392.0Z M393.0,437.0H395.0V449.5H393.0Z M395.0,442.3H397.0V449.5H395.0Z M397.0,430.0H398.0V449.5H397.0Z M398.0,446.0H400.0V449.5H398.0Z M400.0,449.0H401.0V449.5H400.0Z M401.0,433.8H403.0V449.5H401.0Z M403.0,420.8H407.0V449.5H403.0Z M407.0,432.3H409.0V449.5H407.0Z M409.0,438.5H411.0V449.5H409.0Z M411.0,443.8H413.0V449.5H411.0Z M413.0,438.5H415.0V449.5H413.0Z M415.0,424.6H417.0V449.5H415.0Z M417.0,432.3H419.0V449.5H417.0Z M419.0,428.5H421.0V449.5H419.0Z M421.0,434.6H423.0V449.5H421.0Z M423.0,422.3H425.0V449.5H423.0Z M425.0,430.0H428.0V449.5H425.0Z M428.0,432.3H431.0V449.5H428.0Z M431.0,434.6H434.0V449.5H431.0Z M434.0,430.0H436.0V449.5H434.0Z M436.0,436.2H438.0V449.5H436.0Z M438.0,438.5H440.0V449.5H438.0Z M440.0,436.0H441.0V449.5H440.0Z M441.0,420.8H443.0V449.5H441.0Z M443.0,427.7H446.0V449.5H443.0Z M446.0,411.5H447.0V449.5H446.0Z M447.0,428.5H449.0V449.5H447.0Z M449.0,414.6H450.0V449.5H449.0Z M450.0,424.6H452.0V449.5H450.0Z M452.0,426.2H453.0V449.5H452.0Z M453.0,418.5H455.0V449.5H453.0Z M455.0,423.8H456.0V449.5H455.0Z M456.0,442.3H458.0V449.5H456.0Z M458.0,420.8H460.0V449.5H458.0Z M460.0,415.4H461.0V449.5H460.0Z M461.0,408.5H463.0V449.5H461.0Z M463.0,405.4H464.0V449.5H463.0Z M464.0,406.2H466.0V449.5H464.0Z M466.0,405.4H471.0V449.5H466.0Z M471.0,403.0H473.0V449.5H471.0Z M473.0,397.0H474.5V449.5H473.0Z M474.5,421.5H482.0V449.5H474.5Z M489.0,443.8H496.0V449.5H489.0Z M496.0,397.0H499.0V449.5H496.0Z M499.0,391.5H502.0V449.5H499.0Z M502.0,399.2H503.0V449.5H502.0Z M503.0,417.0H505.0V449.5H503.0Z M505.0,413.0H506.5V449.5H505.0Z M506.5,409.2H508.0V449.5H506.5Z M508.0,425.4H509.0V449.5H508.0Z M509.0,424.6H510.0V449.5H509.0Z M510.0,414.6H511.0V449.5H510.0Z M511.0,424.6H511.5V449.5H511.0Z" fill="#2c4a80"/>
<path d="M207,448.9H482M489,448.9H511.5" stroke="#1f3569" stroke-width="1.2"/>
<path d="M223.0,441.8V445.0 M229.0,440.2V445.0 M272.0,441.0V445.0 M276.0,439.5V445.0 M286.0,439.5V445.0 M320.0,438.0V445.0 M325.0,437.2V445.0 M328.0,437.2V445.0 M330.0,423.3V445.0 M332.0,428.0V445.0 M347.0,438.0V445.0 M349.0,438.0V445.0 M350.0,435.6V445.0 M352.0,435.6V445.0 M375.0,433.3V445.0 M407.0,433.3V445.0 M431.0,435.6V445.0 M434.0,435.6V445.0 M436.0,437.2V445.0 M441.0,437.0V445.0 M452.0,427.2V445.0 M453.0,427.2V445.0 M473.0,404.0V445.0 M474.5,422.5V445.0 M499.0,398.0V445.0 M502.0,400.2V445.0 M505.0,418.0V445.0 M508.0,426.4V445.0" stroke="#fff" stroke-width="0.6" opacity="0.85"/>
<rect x="499" y="391" width="3" height="2.2" fill="#6e2f6e"/>
<line x1="204.6" y1="459.6" x2="204.6" y2="506.6" stroke="#000" stroke-width="1"/>
<line x1="201.3" y1="462.1" x2="204.6" y2="462.1" stroke="#000" stroke-width="1"/>
<line x1="201.3" y1="506.1" x2="204.6" y2="506.1" stroke="#000" stroke-width="1"/>
<text x="198.8" y="464.90000000000003" font-size="8.58" text-anchor="end" font-weight="normal" fill="#1a1a1a" textLength="13" lengthAdjust="spacingAndGlyphs" >150</text>
<text x="198.8" y="508.90000000000003" font-size="8.58" text-anchor="end" font-weight="normal" fill="#1a1a1a" textLength="4.3" lengthAdjust="spacingAndGlyphs" >0</text>
<text x="210.6" y="478.4" font-size="8.80" text-anchor="start" font-weight="normal" fill="#1a1a1a" textLength="75" lengthAdjust="spacingAndGlyphs" >BCL11A +58 sgRNA</text>
<path d="M206.5,503.8H208.0V511H206.5Z M208.0,505.4H210.0V511H208.0Z M210.0,503.8H212.0V511H210.0Z M212.0,505.4H214.0V511H212.0Z M214.0,503.0H216.0V511H214.0Z M216.0,503.8H218.0V511H216.0Z M218.0,503.0H220.0V511H218.0Z M220.0,503.8H222.0V511H220.0Z M222.0,497.0H223.0V511H222.0Z M223.0,495.4H224.0V511H223.0Z M224.0,510.0H225.0V511H224.0Z M225.0,503.0H228.0V511H225.0Z M228.0,480.0H229.0V511H228.0Z M229.0,503.8H232.0V511H229.0Z M232.0,503.0H234.0V511H232.0Z M234.0,504.6H236.0V511H234.0Z M236.0,503.8H239.0V511H236.0Z M239.0,501.5H241.0V511H239.0Z M241.0,500.8H243.0V511H241.0Z M243.0,503.0H245.0V511H243.0Z M245.0,503.8H247.0V511H245.0Z M247.0,501.5H249.0V511H247.0Z M249.0,503.8H251.0V511H249.0Z M251.0,504.6H253.0V511H251.0Z M253.0,503.8H254.0V511H253.0Z M254.0,495.0H255.0V511H254.0Z M255.0,504.6H257.0V511H255.0Z M257.0,503.0H259.0V511H257.0Z M259.0,498.5H261.0V511H259.0Z M261.0,501.5H263.0V511H261.0Z M263.0,503.8H265.0V511H263.0Z M265.0,499.2H267.0V511H265.0Z M267.0,502.3H269.0V511H267.0Z M269.0,498.5H271.0V511H269.0Z M271.0,504.6H273.0V511H271.0Z M273.0,500.0H275.0V511H273.0Z M275.0,502.3H277.0V511H275.0Z M277.0,499.2H279.0V511H277.0Z M279.0,504.6H281.0V511H279.0Z M281.0,502.3H283.0V511H281.0Z M283.0,498.5H285.0V511H283.0Z M285.0,503.0H286.0V511H285.0Z M286.0,503.0H288.0V511H286.0Z M288.0,498.5H290.0V511H288.0Z M290.0,503.8H292.0V511H290.0Z M292.0,499.2H295.0V511H292.0Z M295.0,503.8H297.0V511H295.0Z M297.0,506.0H298.0V511H297.0Z M298.0,496.2H299.0V511H298.0Z M299.0,503.8H302.0V511H299.0Z M302.0,500.8H304.0V511H302.0Z M304.0,496.2H305.0V511H304.0Z M305.0,503.0H307.0V511H305.0Z M307.0,503.8H309.0V511H307.0Z M309.0,497.7H310.0V511H309.0Z M310.0,487.7H311.0V511H310.0Z M311.0,500.0H312.0V511H311.0Z M312.0,490.0H313.0V511H312.0Z M313.0,506.0H315.0V511H313.0Z M315.0,498.5H317.0V511H315.0Z M317.0,490.0H319.0V511H317.0Z M319.0,502.3H321.0V511H319.0Z M321.0,482.3H323.0V511H321.0Z M323.0,501.5H325.0V511H323.0Z M325.0,497.0H327.0V511H325.0Z M327.0,492.3H328.0V511H327.0Z M328.0,496.2H330.0V511H328.0Z M330.0,490.0H332.0V511H330.0Z M332.0,496.2H334.0V511H332.0Z M334.0,500.8H336.0V511H334.0Z M336.0,495.4H337.0V511H336.0Z M337.0,487.7H339.0V511H337.0Z M339.0,502.3H341.0V511H339.0Z M341.0,482.3H344.0V511H341.0Z M344.0,502.3H346.0V511H344.0Z M346.0,490.0H347.0V511H346.0Z M347.0,500.8H349.0V511H347.0Z M349.0,487.0H351.0V511H349.0Z M351.0,496.2H352.0V511H351.0Z M352.0,500.8H354.0V511H352.0Z M354.0,478.5H356.0V511H354.0Z M356.0,479.2H358.0V511H356.0Z M358.0,498.5H360.0V511H358.0Z M360.0,502.3H362.0V511H360.0Z M362.0,496.2H364.0V511H362.0Z M364.0,488.5H366.0V511H364.0Z M366.0,496.2H367.0V511H366.0Z M367.0,506.0H370.0V511H367.0Z M370.0,498.5H371.0V511H370.0Z M371.0,487.0H372.0V511H371.0Z M372.0,495.4H374.0V511H372.0Z M374.0,502.3H375.0V511H374.0Z M375.0,487.7H376.0V511H375.0Z M376.0,504.6H378.0V511H376.0Z M378.0,495.4H380.0V511H378.0Z M380.0,506.0H382.0V511H380.0Z M382.0,492.3H383.0V511H382.0Z M383.0,501.5H385.0V511H383.0Z M385.0,503.8H387.0V511H385.0Z M387.0,492.3H388.0V511H387.0Z M388.0,501.5H390.0V511H388.0Z M390.0,503.8H392.0V511H390.0Z M392.0,499.2H394.0V511H392.0Z M394.0,495.4H395.0V511H394.0Z M395.0,504.6H397.0V511H395.0Z M397.0,498.5H399.0V511H397.0Z M399.0,500.8H402.0V511H399.0Z M402.0,495.4H405.0V511H402.0Z M405.0,509.0H406.0V511H405.0Z M406.0,496.2H408.0V511H406.0Z M408.0,487.0H410.0V511H408.0Z M410.0,490.8H412.0V511H410.0Z M412.0,496.9H414.0V511H412.0Z M414.0,493.0H416.0V511H414.0Z M416.0,504.6H418.0V511H416.0Z M418.0,484.6H419.0V511H418.0Z M419.0,495.4H422.0V511H419.0Z M422.0,496.2H424.0V511H422.0Z M424.0,500.8H426.0V511H424.0Z M426.0,493.0H429.0V511H426.0Z M429.0,496.2H432.0V511H429.0Z M432.0,497.7H434.0V511H432.0Z M434.0,496.2H437.0V511H434.0Z M437.0,495.4H440.0V511H437.0Z M440.0,487.0H441.0V511H440.0Z M441.0,499.2H443.0V511H441.0Z M443.0,496.2H445.0V511H443.0Z M445.0,495.4H447.0V511H445.0Z M447.0,500.8H448.0V511H447.0Z M448.0,493.0H450.0V511H448.0Z M450.0,490.8H451.0V511H450.0Z M451.0,482.3H453.0V511H451.0Z M453.0,470.0H454.0V511H453.0Z M454.0,484.6H456.0V511H454.0Z M456.0,494.6H458.0V511H456.0Z M458.0,487.7H460.0V511H458.0Z M460.0,484.6H462.0V511H460.0Z M462.0,494.6H463.0V511H462.0Z M463.0,482.3H465.0V511H463.0Z M465.0,476.2H467.0V511H465.0Z M467.0,485.4H468.0V511H467.0Z M468.0,497.7H469.0V511H468.0Z M469.0,470.0H470.0V511H469.0Z M470.0,484.6H474.0V511H470.0Z M474.0,490.0H475.0V511H474.0Z M475.0,468.2H482.0V511H475.0Z M489.0,490.3H496.0V511H489.0Z M496.0,460.0H498.0V511H496.0Z M498.0,463.8H499.0V511H498.0Z M499.0,453.0H503.0V511H499.0Z M503.0,473.0H506.0V511H503.0Z M506.0,487.0H507.0V511H506.0Z M507.0,494.6H508.0V511H507.0Z M508.0,476.2H510.0V511H508.0Z M510.0,487.7H511.5V511H510.0Z" fill="#2c4a80"/>
<path d="M207,510.4H482M489,510.4H511.5" stroke="#1f3569" stroke-width="1.2"/>
<path d="M283.0,503.3V506.5 M310.0,498.7V506.5 M311.0,501.0V506.5 M317.0,499.5V506.5 M332.0,497.2V506.5 M336.0,501.8V506.5 M337.0,496.4V506.5 M374.0,503.3V506.5 M394.0,500.2V506.5 M399.0,501.8V506.5 M408.0,497.2V506.5 M410.0,491.8V506.5 M412.0,497.9V506.5 M424.0,501.8V506.5 M432.0,498.7V506.5 M440.0,496.4V506.5 M450.0,494.0V506.5 M456.0,495.6V506.5 M462.0,495.6V506.5 M467.0,486.4V506.5 M474.0,491.0V506.5 M499.0,464.8V506.5 M503.0,474.0V506.5 M506.0,488.0V506.5 M508.0,495.6V506.5 M510.0,488.7V506.5" stroke="#fff" stroke-width="0.6" opacity="0.85"/>
<rect x="499" y="452.5" width="4" height="2.2" fill="#6e2f6e"/>
<line x1="181.6" y1="280.4" x2="181.6" y2="506.8" stroke="#000" stroke-width="1"/>
<text transform="translate(177.2,393.7) rotate(-90)" font-size="10" text-anchor="middle" fill="#1a1a1a" textLength="33.4" lengthAdjust="spacingAndGlyphs">Capture-C</text>
<g fill="none" stroke="#b4173a" stroke-width="1.4" stroke-linecap="butt"><circle cx="485.6" cy="269.3" r="1.7" stroke-width="1.3"/><line x1="482.3" y1="272.5" x2="489" y2="272.5" stroke-width="1.3"/><line x1="485.6" y1="271" x2="485.6" y2="285.5" stroke-width="1.5"/><path d="M479.3,280.4 Q480.8,284.9 485.6,285.7 Q490.4,284.9 491.9,280.4" stroke-width="1.5"/></g>
<path d="M478.2,277.4 L477.4,282.2 L481.4,281 Z M493,277.4 L493.8,282.2 L489.8,281 Z" fill="#b4173a"/>
<line x1="483.8" y1="259.5" x2="483.8" y2="265" stroke="#000" stroke-width="1"/>
<text x="210.8" y="529" font-size="8.80" text-anchor="start" font-weight="normal" fill="#1a1a1a" textLength="20.5" lengthAdjust="spacingAndGlyphs" >ATF4</text>
<path d="M207.0,537.30 L207.0,536.64 L207.5,536.10 L208.0,536.20 L208.5,536.82 L209.0,536.94 L209.5,536.09 L210.0,536.47 L210.5,536.33 L211.0,537.00 L211.5,537.04 L212.0,536.34 L212.5,536.63 L213.0,537.02 L213.5,536.07 L214.0,536.40 L214.5,536.22 L215.0,537.01 L215.5,536.16 L216.0,537.03 L216.5,536.15 L217.0,536.60 L217.5,536.73 L218.0,536.49 L218.5,536.08 L219.0,536.81 L219.5,536.96 L220.0,536.52 L220.5,536.84 L221.0,536.98 L221.5,536.92 L222.0,537.04 L222.5,536.88 L223.0,536.76 L223.5,536.76 L224.0,536.26 L224.5,536.78 L225.0,536.55 L225.5,536.90 L226.0,536.72 L226.5,537.08 L227.0,536.82 L227.5,537.08 L228.0,536.29 L228.5,536.49 L229.0,536.89 L229.5,536.58 L230.0,536.07 L230.5,536.98 L231.0,536.20 L231.5,536.62 L232.0,536.56 L232.5,536.18 L233.0,536.67 L233.5,536.54 L234.0,536.34 L234.5,536.02 L235.0,536.72 L235.5,536.18 L236.0,536.32 L236.5,536.40 L237.0,536.65 L237.5,536.72 L238.0,537.04 L238.5,536.96 L239.0,537.02 L239.5,536.29 L240.0,536.82 L240.5,536.92 L241.0,537.01 L241.5,536.17 L242.0,536.14 L242.5,536.36 L243.0,536.79 L243.5,536.83 L244.0,536.78 L244.5,536.59 L245.0,536.93 L245.5,536.61 L246.0,536.81 L246.5,536.04 L247.0,536.03 L247.5,536.50 L248.0,536.83 L248.5,536.04 L249.0,536.76 L249.5,536.71 L250.0,537.10 L250.5,536.68 L251.0,536.58 L251.5,536.55 L252.0,536.88 L252.5,536.54 L253.0,537.09 L253.5,536.81 L254.0,537.00 L254.5,536.66 L255.0,537.05 L255.5,537.08 L256.0,536.77 L256.5,536.84 L257.0,536.46 L257.5,536.52 L258.0,536.27 L258.5,536.38 L259.0,536.31 L259.5,536.13 L260.0,536.67 L260.5,536.74 L261.0,536.02 L261.5,536.94 L262.0,536.30 L262.5,536.39 L263.0,537.05 L263.5,536.18 L264.0,536.12 L264.5,536.41 L265.0,536.29 L265.5,536.21 L266.0,536.95 L266.5,536.52 L267.0,536.55 L267.5,536.18 L268.0,536.21 L268.5,536.19 L269.0,536.46 L269.5,536.12 L270.0,536.35 L270.5,536.34 L271.0,536.85 L271.5,537.07 L272.0,536.95 L272.5,536.70 L273.0,536.98 L273.5,536.18 L274.0,536.49 L274.5,536.41 L275.0,536.41 L275.5,536.35 L276.0,536.56 L276.5,537.10 L277.0,536.22 L277.5,536.28 L278.0,536.55 L278.5,536.51 L279.0,536.37 L279.5,537.03 L280.0,536.29 L280.5,536.82 L281.0,537.02 L281.5,536.81 L282.0,536.30 L282.5,536.87 L283.0,536.29 L283.5,536.03 L284.0,536.56 L284.5,536.68 L285.0,536.57 L285.5,536.35 L286.0,536.26 L286.5,536.42 L287.0,536.39 L287.5,537.01 L288.0,536.94 L288.5,536.82 L289.0,536.28 L289.5,536.77 L290.0,536.48 L290.5,537.09 L291.0,537.03 L291.5,536.80 L292.0,536.36 L292.5,536.34 L293.0,536.36 L293.5,536.78 L294.0,536.53 L294.5,536.59 L295.0,536.59 L295.5,536.97 L296.0,536.12 L296.5,536.88 L297.0,536.02 L297.5,536.07 L298.0,537.08 L298.5,536.60 L299.0,536.20 L299.5,536.04 L300.0,536.61 L300.5,536.80 L301.0,536.87 L301.5,536.06 L302.0,536.87 L302.5,536.46 L303.0,536.94 L303.5,536.52 L304.0,536.05 L304.5,536.95 L305.0,536.20 L305.5,536.54 L306.0,536.12 L306.5,536.33 L307.0,536.85 L307.5,536.11 L308.0,536.57 L308.5,537.07 L309.0,537.10 L309.5,536.56 L310.0,536.60 L310.5,536.77 L311.0,536.95 L311.5,536.72 L312.0,536.75 L312.5,536.18 L313.0,537.10 L313.5,536.27 L314.0,536.18 L314.5,536.97 L315.0,536.08 L315.5,536.32 L316.0,536.11 L316.5,536.78 L317.0,536.69 L317.5,536.67 L318.0,536.00 L318.5,536.45 L319.0,536.70 L319.5,536.63 L320.0,536.80 L320.5,537.05 L321.0,536.99 L321.5,536.18 L322.0,536.79 L322.5,536.07 L323.0,536.83 L323.5,536.81 L324.0,536.54 L324.5,536.89 L325.0,536.69 L325.5,536.05 L326.0,536.13 L326.5,536.21 L327.0,536.41 L327.5,536.10 L328.0,536.07 L328.5,536.50 L329.0,536.31 L329.5,537.05 L330.0,536.29 L330.5,536.60 L331.0,536.27 L331.5,536.39 L332.0,536.79 L332.5,537.05 L333.0,536.08 L333.5,536.96 L334.0,536.58 L334.5,536.72 L335.0,536.77 L335.5,536.29 L336.0,536.03 L336.5,536.81 L337.0,536.38 L337.5,536.77 L338.0,536.49 L338.5,536.42 L339.0,527.87 L339.5,516.11 L340.0,533.89 L340.5,536.08 L341.0,536.55 L341.5,536.86 L342.0,536.10 L342.5,536.00 L343.0,536.61 L343.5,536.95 L344.0,536.89 L344.5,537.00 L345.0,536.72 L345.5,537.00 L346.0,536.84 L346.5,536.82 L347.0,536.47 L347.5,536.12 L348.0,536.28 L348.5,536.65 L349.0,536.64 L349.5,536.52 L350.0,536.69 L350.5,536.73 L351.0,537.03 L351.5,536.79 L352.0,536.04 L352.5,536.96 L353.0,536.55 L353.5,536.41 L354.0,536.15 L354.5,536.86 L355.0,536.80 L355.5,536.83 L356.0,536.66 L356.5,536.61 L357.0,536.05 L357.5,536.17 L358.0,536.14 L358.5,537.08 L359.0,537.06 L359.5,536.32 L360.0,536.11 L360.5,536.58 L361.0,536.45 L361.5,537.10 L362.0,536.67 L362.5,536.08 L363.0,536.19 L363.5,536.16 L364.0,536.03 L364.5,536.83 L365.0,536.98 L365.5,536.93 L366.0,536.53 L366.5,536.35 L367.0,536.06 L367.5,536.31 L368.0,536.39 L368.5,536.26 L369.0,536.60 L369.5,536.49 L370.0,537.06 L370.5,536.24 L371.0,536.84 L371.5,536.09 L372.0,536.39 L372.5,536.77 L373.0,536.96 L373.5,536.82 L374.0,536.40 L374.5,536.33 L375.0,536.98 L375.5,537.02 L376.0,536.52 L376.5,536.46 L377.0,536.67 L377.5,536.85 L378.0,536.44 L378.5,537.09 L379.0,536.77 L379.5,536.59 L380.0,536.05 L380.5,536.39 L381.0,536.13 L381.5,536.58 L382.0,536.84 L382.5,536.83 L383.0,536.04 L383.5,536.32 L384.0,536.76 L384.5,537.08 L385.0,536.55 L385.5,536.36 L386.0,536.64 L386.5,536.82 L387.0,536.37 L387.5,536.08 L388.0,536.85 L388.5,537.06 L389.0,536.73 L389.5,536.64 L390.0,536.35 L390.5,536.88 L391.0,536.22 L391.5,536.29 L392.0,536.54 L392.5,536.87 L393.0,536.03 L393.5,536.76 L394.0,536.20 L394.5,536.85 L395.0,536.86 L395.5,536.26 L396.0,536.78 L396.5,536.05 L397.0,536.55 L397.5,536.89 L398.0,536.85 L398.5,536.64 L399.0,536.37 L399.5,536.06 L400.0,536.94 L400.5,536.67 L401.0,536.87 L401.5,536.03 L402.0,536.94 L402.5,537.04 L403.0,537.03 L403.5,536.67 L404.0,536.11 L404.5,536.13 L405.0,536.29 L405.5,536.00 L406.0,536.08 L406.5,536.74 L407.0,536.90 L407.5,536.07 L408.0,536.28 L408.5,537.06 L409.0,536.37 L409.5,536.68 L410.0,536.69 L410.5,536.74 L411.0,536.91 L411.5,537.10 L412.0,536.79 L412.5,536.71 L413.0,536.05 L413.5,536.96 L414.0,536.04 L414.5,536.87 L415.0,536.71 L415.5,536.20 L416.0,536.20 L416.5,536.62 L417.0,537.05 L417.5,536.58 L418.0,536.69 L418.5,536.09 L419.0,536.89 L419.5,536.70 L420.0,536.11 L420.5,537.07 L421.0,536.65 L421.5,536.21 L422.0,536.26 L422.5,537.06 L423.0,537.06 L423.5,537.03 L424.0,536.09 L424.5,536.82 L425.0,536.28 L425.5,536.11 L426.0,536.73 L426.5,536.80 L427.0,536.05 L427.5,536.42 L428.0,536.81 L428.5,536.31 L429.0,536.75 L429.5,536.80 L430.0,537.10 L430.5,536.27 L431.0,536.09 L431.5,536.40 L432.0,536.06 L432.5,537.07 L433.0,536.84 L433.5,536.58 L434.0,536.05 L434.5,536.05 L435.0,536.67 L435.5,536.82 L436.0,536.63 L436.5,536.56 L437.0,536.08 L437.5,536.90 L438.0,536.22 L438.5,536.29 L439.0,536.19 L439.5,536.25 L440.0,536.43 L440.5,536.74 L441.0,536.75 L441.5,536.70 L442.0,536.24 L442.5,537.01 L443.0,536.88 L443.5,536.27 L444.0,536.83 L444.5,537.03 L445.0,537.06 L445.5,536.49 L446.0,536.74 L446.5,536.02 L447.0,536.13 L447.5,536.01 L448.0,536.81 L448.5,537.01 L449.0,536.99 L449.5,536.55 L450.0,536.32 L450.5,536.61 L451.0,536.84 L451.5,536.64 L452.0,536.42 L452.5,536.36 L453.0,536.28 L453.5,536.17 L454.0,536.37 L454.5,536.97 L455.0,536.18 L455.5,536.78 L456.0,536.48 L456.5,536.69 L457.0,536.29 L457.5,536.88 L458.0,536.83 L458.5,536.83 L459.0,536.93 L459.5,536.13 L460.0,536.46 L460.5,536.74 L461.0,536.66 L461.5,536.01 L462.0,536.54 L462.5,536.85 L463.0,536.21 L463.5,536.38 L464.0,536.01 L464.5,536.99 L465.0,536.58 L465.5,536.20 L466.0,536.18 L466.5,536.09 L467.0,537.06 L467.5,536.78 L468.0,536.97 L468.5,536.89 L469.0,536.03 L469.5,536.46 L470.0,536.08 L470.5,536.69 L471.0,536.15 L471.5,536.61 L472.0,536.81 L472.5,536.24 L473.0,536.06 L473.5,536.98 L474.0,536.44 L474.5,536.42 L475.0,536.86 L475.5,536.69 L476.0,536.94 L476.5,536.88 L477.0,536.82 L477.5,536.44 L478.0,536.38 L478.5,536.88 L479.0,537.09 L479.5,536.74 L480.0,536.35 L480.5,536.90 L481.0,536.76 L481.5,536.88 L482.0,536.23 L482.5,536.50 L483.0,537.03 L483.5,536.99 L484.0,536.67 L484.5,536.49 L485.0,536.40 L485.5,537.00 L486.0,536.92 L486.5,536.34 L487.0,536.65 L487.5,536.79 L488.0,536.76 L488.5,536.05 L489.0,536.76 L489.5,536.48 L490.0,536.71 L490.5,536.64 L491.0,536.15 L491.5,536.00 L492.0,536.70 L492.5,536.88 L493.0,536.30 L493.5,536.88 L494.0,537.09 L494.5,536.11 L495.0,536.63 L495.5,536.20 L496.0,536.65 L496.5,536.13 L497.0,536.59 L497.5,536.92 L498.0,537.08 L498.5,536.49 L499.0,536.40 L499.5,536.10 L500.0,537.00 L500.5,536.42 L501.0,536.69 L501.5,536.55 L502.0,536.94 L502.5,536.79 L503.0,536.53 L503.5,536.08 L504.0,536.98 L504.5,536.56 L505.0,536.21 L505.5,536.04 L506.0,536.88 L506.5,536.96 L507.0,536.06 L507.5,536.03 L508.0,536.57 L508.5,537.04 L509.0,536.08 L509.5,536.67 L510.0,536.11 L510.5,536.42 L511.0,536.19 L511.5,536.92 L511.5,537.30Z" fill="#000" stroke="#000" stroke-width="0.6"/>
<text x="210.8" y="554" font-size="8.80" text-anchor="start" font-weight="normal" fill="#1a1a1a" textLength="28" lengthAdjust="spacingAndGlyphs" >DNaseI</text>
<path d="M207.0,559.70 L207.0,559.39 L207.5,559.61 L208.0,559.54 L208.5,559.36 L209.0,559.37 L209.5,559.63 L210.0,559.61 L210.5,559.54 L211.0,559.49 L211.5,559.55 L212.0,559.65 L212.5,559.60 L213.0,559.41 L213.5,559.34 L214.0,559.68 L214.5,559.48 L215.0,559.40 L215.5,559.68 L216.0,559.36 L216.5,559.65 L217.0,559.46 L217.5,559.48 L218.0,559.45 L218.5,559.58 L219.0,559.53 L219.5,559.47 L220.0,559.53 L220.5,559.44 L221.0,559.52 L221.5,559.52 L222.0,559.69 L222.5,559.45 L223.0,559.50 L223.5,559.61 L224.0,559.39 L224.5,559.39 L225.0,559.52 L225.5,559.63 L226.0,559.51 L226.5,559.66 L227.0,559.65 L227.5,559.53 L228.0,559.66 L228.5,559.52 L229.0,559.50 L229.5,559.68 L230.0,559.45 L230.5,559.67 L231.0,559.41 L231.5,559.39 L232.0,559.50 L232.5,559.68 L233.0,559.50 L233.5,559.55 L234.0,559.32 L234.5,559.65 L235.0,559.36 L235.5,559.30 L236.0,559.41 L236.5,559.37 L237.0,559.62 L237.5,559.31 L238.0,559.50 L238.5,559.32 L239.0,559.33 L239.5,559.63 L240.0,559.38 L240.5,559.33 L241.0,559.67 L241.5,559.56 L242.0,559.40 L242.5,559.64 L243.0,559.34 L243.5,559.59 L244.0,559.37 L244.5,559.64 L245.0,559.50 L245.5,559.33 L246.0,559.62 L246.5,559.54 L247.0,558.95 L247.5,558.37 L248.0,559.14 L248.5,559.57 L249.0,559.63 L249.5,559.33 L250.0,559.43 L250.5,559.34 L251.0,559.63 L251.5,559.39 L252.0,559.65 L252.5,559.49 L253.0,559.45 L253.5,559.56 L254.0,559.35 L254.5,559.48 L255.0,559.47 L255.5,559.35 L256.0,559.66 L256.5,559.30 L257.0,559.45 L257.5,559.54 L258.0,559.38 L258.5,559.59 L259.0,559.30 L259.5,559.47 L260.0,559.56 L260.5,559.39 L261.0,559.52 L261.5,559.63 L262.0,559.40 L262.5,559.68 L263.0,559.37 L263.5,559.60 L264.0,559.44 L264.5,559.31 L265.0,559.47 L265.5,559.43 L266.0,559.57 L266.5,559.70 L267.0,559.69 L267.5,559.64 L268.0,559.45 L268.5,559.53 L269.0,559.49 L269.5,559.34 L270.0,559.65 L270.5,559.61 L271.0,559.44 L271.5,559.69 L272.0,559.70 L272.5,559.56 L273.0,559.66 L273.5,559.50 L274.0,559.06 L274.5,558.27 L275.0,558.91 L275.5,559.57 L276.0,559.45 L276.5,559.51 L277.0,559.65 L277.5,559.33 L278.0,559.60 L278.5,559.64 L279.0,559.66 L279.5,559.44 L280.0,559.35 L280.5,559.39 L281.0,559.54 L281.5,559.59 L282.0,559.70 L282.5,559.44 L283.0,559.48 L283.5,559.56 L284.0,559.44 L284.5,559.52 L285.0,559.33 L285.5,559.41 L286.0,559.60 L286.5,559.34 L287.0,559.68 L287.5,559.49 L288.0,559.54 L288.5,559.60 L289.0,559.68 L289.5,559.39 L290.0,559.70 L290.5,559.48 L291.0,559.32 L291.5,559.64 L292.0,559.62 L292.5,559.46 L293.0,559.50 L293.5,559.44 L294.0,559.37 L294.5,559.63 L295.0,559.58 L295.5,559.58 L296.0,559.68 L296.5,559.34 L297.0,559.39 L297.5,559.41 L298.0,559.70 L298.5,559.36 L299.0,559.40 L299.5,559.51 L300.0,559.40 L300.5,559.52 L301.0,559.61 L301.5,559.66 L302.0,559.61 L302.5,559.68 L303.0,559.57 L303.5,559.40 L304.0,559.42 L304.5,559.36 L305.0,559.42 L305.5,559.59 L306.0,559.48 L306.5,559.53 L307.0,559.38 L307.5,559.49 L308.0,559.59 L308.5,559.44 L309.0,559.31 L309.5,559.61 L310.0,559.35 L310.5,559.69 L311.0,559.60 L311.5,559.61 L312.0,559.40 L312.5,559.32 L313.0,559.40 L313.5,559.57 L314.0,559.35 L314.5,559.57 L315.0,559.60 L315.5,559.34 L316.0,559.45 L316.5,559.42 L317.0,559.43 L317.5,559.31 L318.0,559.50 L318.5,559.05 L319.0,556.99 L319.5,555.48 L320.0,558.23 L320.5,559.32 L321.0,559.47 L321.5,559.58 L322.0,559.62 L322.5,559.45 L323.0,559.67 L323.5,559.34 L324.0,559.64 L324.5,559.69 L325.0,559.66 L325.5,559.33 L326.0,559.56 L326.5,559.64 L327.0,559.69 L327.5,559.68 L328.0,559.42 L328.5,559.44 L329.0,559.22 L329.5,555.40 L330.0,543.35 L330.5,545.50 L331.0,557.05 L331.5,559.28 L332.0,559.37 L332.5,559.34 L333.0,559.67 L333.5,559.35 L334.0,559.33 L334.5,559.32 L335.0,559.66 L335.5,559.62 L336.0,559.66 L336.5,559.69 L337.0,559.36 L337.5,559.36 L338.0,558.90 L338.5,553.65 L339.0,546.95 L339.5,553.86 L340.0,559.11 L340.5,559.65 L341.0,559.40 L341.5,559.62 L342.0,559.57 L342.5,559.53 L343.0,559.69 L343.5,559.60 L344.0,559.59 L344.5,559.41 L345.0,559.55 L345.5,559.57 L346.0,559.31 L346.5,559.50 L347.0,559.36 L347.5,559.45 L348.0,559.69 L348.5,559.53 L349.0,559.53 L349.5,559.39 L350.0,559.56 L350.5,559.42 L351.0,559.48 L351.5,559.61 L352.0,559.36 L352.5,559.66 L353.0,559.37 L353.5,559.63 L354.0,559.70 L354.5,559.62 L355.0,559.40 L355.5,559.31 L356.0,559.70 L356.5,559.50 L357.0,559.50 L357.5,559.38 L358.0,559.63 L358.5,559.50 L359.0,559.56 L359.5,559.37 L360.0,559.60 L360.5,559.32 L361.0,559.59 L361.5,559.61 L362.0,559.42 L362.5,559.50 L363.0,559.66 L363.5,559.45 L364.0,559.67 L364.5,559.38 L365.0,559.42 L365.5,559.39 L366.0,559.45 L366.5,559.56 L367.0,559.54 L367.5,559.54 L368.0,559.34 L368.5,559.67 L369.0,559.34 L369.5,559.69 L370.0,559.62 L370.5,559.59 L371.0,559.34 L371.5,559.50 L372.0,559.55 L372.5,559.35 L373.0,559.61 L373.5,559.52 L374.0,559.49 L374.5,559.40 L375.0,559.40 L375.5,559.44 L376.0,559.56 L376.5,559.57 L377.0,559.64 L377.5,559.36 L378.0,559.44 L378.5,559.40 L379.0,559.63 L379.5,559.52 L380.0,559.39 L380.5,559.47 L381.0,559.65 L381.5,559.52 L382.0,559.35 L382.5,559.60 L383.0,559.62 L383.5,559.58 L384.0,559.42 L384.5,559.36 L385.0,559.64 L385.5,559.64 L386.0,559.60 L386.5,559.57 L387.0,559.49 L387.5,559.64 L388.0,559.57 L388.5,559.62 L389.0,559.31 L389.5,559.41 L390.0,559.66 L390.5,559.32 L391.0,559.66 L391.5,559.55 L392.0,559.31 L392.5,559.38 L393.0,559.41 L393.5,559.53 L394.0,559.62 L394.5,559.44 L395.0,559.66 L395.5,559.62 L396.0,559.54 L396.5,559.69 L397.0,559.54 L397.5,559.38 L398.0,559.42 L398.5,559.50 L399.0,559.45 L399.5,559.51 L400.0,559.64 L400.5,559.46 L401.0,559.54 L401.5,559.40 L402.0,559.34 L402.5,559.53 L403.0,559.47 L403.5,559.40 L404.0,559.53 L404.5,559.61 L405.0,559.41 L405.5,559.35 L406.0,559.39 L406.5,559.42 L407.0,559.36 L407.5,559.43 L408.0,559.44 L408.5,559.52 L409.0,559.57 L409.5,559.45 L410.0,559.66 L410.5,559.53 L411.0,559.39 L411.5,559.41 L412.0,559.45 L412.5,559.60 L413.0,559.53 L413.5,559.52 L414.0,559.45 L414.5,559.54 L415.0,559.43 L415.5,559.33 L416.0,559.63 L416.5,559.44 L417.0,559.39 L417.5,559.54 L418.0,559.50 L418.5,559.31 L419.0,559.68 L419.5,559.48 L420.0,559.64 L420.5,559.39 L421.0,559.32 L421.5,559.49 L422.0,559.66 L422.5,559.43 L423.0,558.40 L423.5,553.37 L424.0,552.44 L424.5,557.71 L425.0,559.28 L425.5,559.49 L426.0,559.54 L426.5,559.32 L427.0,559.62 L427.5,559.43 L428.0,559.54 L428.5,559.39 L429.0,559.65 L429.5,559.31 L430.0,559.56 L430.5,559.68 L431.0,559.59 L431.5,559.54 L432.0,559.69 L432.5,559.53 L433.0,559.53 L433.5,559.42 L434.0,559.56 L434.5,559.59 L435.0,559.61 L435.5,559.40 L436.0,559.32 L436.5,559.49 L437.0,559.61 L437.5,559.38 L438.0,559.54 L438.5,559.62 L439.0,559.65 L439.5,559.39 L440.0,559.38 L440.5,559.45 L441.0,559.51 L441.5,559.48 L442.0,559.61 L442.5,559.31 L443.0,559.56 L443.5,559.44 L444.0,559.37 L444.5,559.37 L445.0,559.51 L445.5,559.58 L446.0,559.48 L446.5,559.65 L447.0,559.37 L447.5,559.56 L448.0,559.36 L448.5,559.59 L449.0,559.55 L449.5,559.60 L450.0,559.53 L450.5,559.63 L451.0,559.70 L451.5,559.41 L452.0,559.59 L452.5,559.60 L453.0,559.58 L453.5,559.51 L454.0,559.53 L454.5,559.45 L455.0,559.44 L455.5,559.56 L456.0,559.33 L456.5,559.36 L457.0,559.68 L457.5,559.37 L458.0,559.34 L458.5,559.39 L459.0,559.64 L459.5,559.37 L460.0,559.45 L460.5,559.69 L461.0,559.70 L461.5,559.32 L462.0,559.44 L462.5,559.60 L463.0,559.66 L463.5,559.64 L464.0,559.61 L464.5,559.39 L465.0,559.56 L465.5,559.64 L466.0,559.34 L466.5,559.38 L467.0,559.63 L467.5,559.34 L468.0,559.46 L468.5,559.39 L469.0,559.43 L469.5,559.34 L470.0,559.38 L470.5,559.36 L471.0,559.62 L471.5,559.42 L472.0,559.49 L472.5,559.40 L473.0,559.52 L473.5,558.01 L474.0,558.74 L474.5,558.05 L475.0,554.81 L475.5,550.41 L476.0,554.53 L476.5,558.49 L477.0,558.15 L477.5,557.98 L478.0,558.30 L478.5,557.59 L479.0,558.21 L479.5,558.90 L480.0,557.93 L480.5,558.33 L481.0,558.04 L481.5,557.66 L482.0,558.11 L482.5,558.44 L483.0,558.23 L483.5,556.71 L484.0,552.40 L484.5,553.11 L485.0,556.79 L485.5,557.81 L486.0,558.28 L486.5,558.17 L487.0,554.58 L487.5,545.15 L488.0,547.30 L488.5,555.98 L489.0,558.75 L489.5,557.58 L490.0,558.91 L490.5,559.07 L491.0,557.74 L491.5,557.97 L492.0,557.51 L492.5,557.77 L493.0,555.16 L493.5,551.94 L494.0,555.37 L494.5,557.61 L495.0,558.88 L495.5,558.02 L496.0,559.33 L496.5,559.44 L497.0,559.55 L497.5,559.37 L498.0,559.39 L498.5,559.48 L499.0,559.60 L499.5,559.58 L500.0,559.53 L500.5,559.57 L501.0,559.53 L501.5,559.44 L502.0,559.32 L502.5,559.44 L503.0,557.65 L503.5,556.78 L504.0,558.68 L504.5,559.31 L505.0,559.47 L505.5,559.33 L506.0,559.52 L506.5,559.69 L507.0,559.55 L507.5,559.46 L508.0,559.32 L508.5,559.31 L509.0,559.51 L509.5,559.54 L510.0,559.66 L510.5,559.44 L511.0,559.62 L511.5,559.64 L511.5,559.70Z" fill="#000" stroke="#000" stroke-width="0.6"/>
<text x="210.8" y="577" font-size="8.80" text-anchor="start" font-weight="normal" fill="#1a1a1a" textLength="32.5" lengthAdjust="spacingAndGlyphs" >H3K27ac</text>
<path d="M207.0,587.40 L207.0,586.88 L207.5,586.72 L208.0,585.60 L208.5,585.82 L209.0,586.62 L209.5,585.83 L210.0,586.77 L210.5,586.21 L211.0,585.45 L211.5,586.88 L212.0,586.78 L212.5,586.65 L213.0,586.81 L213.5,586.24 L214.0,585.70 L214.5,585.96 L215.0,585.72 L215.5,586.05 L216.0,585.44 L216.5,586.40 L217.0,585.65 L217.5,586.26 L218.0,585.87 L218.5,585.69 L219.0,586.51 L219.5,585.68 L220.0,585.65 L220.5,586.04 L221.0,585.69 L221.5,586.38 L222.0,585.70 L222.5,585.50 L223.0,585.88 L223.5,586.52 L224.0,586.21 L224.5,585.74 L225.0,585.55 L225.5,586.19 L226.0,586.61 L226.5,586.36 L227.0,586.12 L227.5,585.40 L228.0,585.95 L228.5,586.00 L229.0,586.87 L229.5,585.60 L230.0,586.51 L230.5,585.48 L231.0,585.45 L231.5,586.60 L232.0,586.82 L232.5,586.21 L233.0,586.80 L233.5,586.72 L234.0,586.05 L234.5,585.90 L235.0,586.66 L235.5,586.57 L236.0,586.37 L236.5,585.64 L237.0,585.84 L237.5,586.82 L238.0,585.49 L238.5,586.01 L239.0,586.41 L239.5,586.18 L240.0,586.69 L240.5,585.82 L241.0,585.51 L241.5,585.60 L242.0,586.23 L242.5,585.63 L243.0,586.39 L243.5,585.95 L244.0,586.79 L244.5,586.63 L245.0,586.22 L245.5,585.51 L246.0,585.94 L246.5,586.22 L247.0,584.90 L247.5,585.44 L248.0,585.56 L248.5,583.67 L249.0,584.47 L249.5,584.23 L250.0,584.70 L250.5,585.41 L251.0,584.77 L251.5,584.36 L252.0,585.78 L252.5,585.13 L253.0,586.13 L253.5,586.16 L254.0,585.54 L254.5,586.49 L255.0,586.20 L255.5,585.65 L256.0,585.58 L256.5,585.52 L257.0,586.50 L257.5,586.35 L258.0,586.01 L258.5,586.23 L259.0,585.83 L259.5,586.42 L260.0,585.77 L260.5,585.47 L261.0,586.10 L261.5,585.45 L262.0,586.74 L262.5,586.85 L263.0,586.61 L263.5,586.03 L264.0,586.74 L264.5,586.83 L265.0,586.15 L265.5,586.29 L266.0,585.60 L266.5,585.78 L267.0,585.49 L267.5,585.63 L268.0,585.48 L268.5,586.53 L269.0,585.42 L269.5,585.67 L270.0,586.11 L270.5,586.52 L271.0,586.34 L271.5,586.24 L272.0,586.67 L272.5,585.48 L273.0,585.55 L273.5,585.92 L274.0,586.47 L274.5,585.95 L275.0,586.22 L275.5,586.42 L276.0,585.98 L276.5,586.47 L277.0,586.65 L277.5,586.43 L278.0,586.51 L278.5,585.60 L279.0,585.89 L279.5,586.16 L280.0,586.15 L280.5,586.52 L281.0,585.98 L281.5,585.56 L282.0,586.11 L282.5,586.38 L283.0,586.71 L283.5,586.73 L284.0,585.73 L284.5,585.36 L285.0,586.31 L285.5,585.85 L286.0,586.00 L286.5,585.64 L287.0,585.68 L287.5,585.50 L288.0,585.88 L288.5,585.90 L289.0,585.42 L289.5,586.06 L290.0,586.29 L290.5,586.15 L291.0,585.42 L291.5,586.43 L292.0,585.80 L292.5,585.30 L293.0,585.32 L293.5,585.93 L294.0,586.54 L294.5,585.18 L295.0,585.09 L295.5,585.56 L296.0,585.69 L296.5,585.52 L297.0,585.98 L297.5,585.55 L298.0,585.77 L298.5,585.01 L299.0,585.30 L299.5,584.86 L300.0,586.12 L300.5,585.00 L301.0,585.83 L301.5,585.56 L302.0,585.99 L302.5,585.58 L303.0,586.23 L303.5,585.70 L304.0,585.62 L304.5,585.31 L305.0,585.43 L305.5,585.12 L306.0,585.66 L306.5,585.12 L307.0,585.78 L307.5,584.95 L308.0,585.83 L308.5,584.96 L309.0,585.75 L309.5,585.10 L310.0,585.52 L310.5,584.58 L311.0,584.90 L311.5,583.83 L312.0,583.65 L312.5,583.57 L313.0,583.47 L313.5,583.36 L314.0,581.94 L314.5,582.78 L315.0,579.37 L315.5,580.65 L316.0,578.55 L316.5,575.45 L317.0,577.76 L317.5,578.04 L318.0,573.17 L318.5,570.25 L319.0,572.70 L319.5,576.10 L320.0,575.38 L320.5,573.51 L321.0,577.27 L321.5,578.28 L322.0,578.53 L322.5,579.65 L323.0,579.47 L323.5,578.54 L324.0,579.05 L324.5,581.47 L325.0,580.13 L325.5,580.57 L326.0,580.91 L326.5,581.30 L327.0,580.17 L327.5,577.38 L328.0,579.42 L328.5,577.24 L329.0,577.21 L329.5,576.86 L330.0,574.35 L330.5,572.31 L331.0,572.48 L331.5,571.89 L332.0,577.28 L332.5,577.09 L333.0,574.62 L333.5,575.78 L334.0,576.35 L334.5,580.26 L335.0,579.91 L335.5,577.11 L336.0,575.73 L336.5,577.28 L337.0,577.04 L337.5,575.30 L338.0,572.90 L338.5,574.23 L339.0,570.61 L339.5,565.61 L340.0,569.28 L340.5,573.92 L341.0,573.94 L341.5,576.71 L342.0,577.49 L342.5,575.52 L343.0,577.83 L343.5,578.26 L344.0,579.82 L344.5,578.59 L345.0,580.88 L345.5,580.68 L346.0,581.87 L346.5,582.80 L347.0,583.42 L347.5,583.77 L348.0,583.75 L348.5,585.21 L349.0,584.39 L349.5,583.87 L350.0,584.95 L350.5,585.31 L351.0,584.93 L351.5,585.21 L352.0,586.14 L352.5,585.02 L353.0,585.15 L353.5,585.92 L354.0,585.25 L354.5,585.15 L355.0,585.57 L355.5,586.15 L356.0,585.36 L356.5,584.94 L357.0,585.78 L357.5,585.69 L358.0,586.25 L358.5,586.47 L359.0,586.18 L359.5,585.20 L360.0,585.96 L360.5,585.81 L361.0,585.90 L361.5,585.30 L362.0,585.94 L362.5,586.40 L363.0,585.89 L363.5,585.30 L364.0,585.70 L364.5,585.66 L365.0,585.79 L365.5,585.76 L366.0,585.44 L366.5,585.72 L367.0,585.76 L367.5,586.12 L368.0,586.19 L368.5,585.43 L369.0,585.50 L369.5,586.00 L370.0,585.98 L370.5,586.63 L371.0,586.69 L371.5,586.13 L372.0,585.73 L372.5,585.32 L373.0,585.59 L373.5,585.39 L374.0,586.62 L374.5,586.49 L375.0,585.96 L375.5,585.79 L376.0,585.91 L376.5,585.47 L377.0,585.74 L377.5,585.83 L378.0,586.30 L378.5,585.79 L379.0,586.72 L379.5,586.70 L380.0,586.50 L380.5,585.62 L381.0,586.85 L381.5,586.60 L382.0,585.85 L382.5,585.57 L383.0,585.67 L383.5,586.37 L384.0,585.57 L384.5,586.61 L385.0,586.30 L385.5,585.62 L386.0,585.98 L386.5,586.57 L387.0,586.83 L387.5,586.19 L388.0,586.36 L388.5,586.40 L389.0,585.42 L389.5,585.89 L390.0,586.15 L390.5,586.10 L391.0,586.85 L391.5,585.59 L392.0,585.95 L392.5,585.70 L393.0,585.88 L393.5,585.79 L394.0,586.37 L394.5,586.81 L395.0,585.42 L395.5,586.53 L396.0,586.70 L396.5,586.22 L397.0,586.45 L397.5,586.45 L398.0,586.07 L398.5,585.52 L399.0,586.63 L399.5,586.36 L400.0,585.60 L400.5,585.55 L401.0,586.87 L401.5,585.84 L402.0,586.60 L402.5,585.93 L403.0,585.45 L403.5,585.69 L404.0,586.69 L404.5,585.59 L405.0,586.58 L405.5,585.93 L406.0,586.39 L406.5,586.83 L407.0,586.16 L407.5,586.20 L408.0,586.05 L408.5,585.98 L409.0,586.76 L409.5,585.75 L410.0,586.26 L410.5,586.06 L411.0,586.40 L411.5,585.82 L412.0,586.42 L412.5,586.21 L413.0,585.47 L413.5,586.15 L414.0,586.30 L414.5,585.72 L415.0,586.65 L415.5,585.99 L416.0,586.26 L416.5,585.61 L417.0,586.64 L417.5,585.20 L418.0,586.05 L418.5,585.99 L419.0,585.49 L419.5,585.70 L420.0,585.50 L420.5,584.75 L421.0,585.84 L421.5,585.80 L422.0,585.03 L422.5,585.38 L423.0,584.06 L423.5,584.11 L424.0,584.89 L424.5,584.84 L425.0,584.39 L425.5,584.33 L426.0,583.39 L426.5,583.03 L427.0,585.26 L427.5,584.30 L428.0,584.18 L428.5,584.28 L429.0,583.21 L429.5,583.96 L430.0,583.56 L430.5,584.57 L431.0,585.47 L431.5,584.43 L432.0,584.96 L432.5,585.08 L433.0,584.52 L433.5,585.23 L434.0,585.52 L434.5,584.55 L435.0,585.95 L435.5,586.15 L436.0,585.53 L436.5,585.33 L437.0,585.62 L437.5,585.20 L438.0,586.15 L438.5,586.10 L439.0,586.45 L439.5,585.80 L440.0,585.87 L440.5,586.53 L441.0,585.64 L441.5,585.81 L442.0,586.04 L442.5,586.86 L443.0,586.11 L443.5,586.53 L444.0,586.32 L444.5,586.10 L445.0,586.41 L445.5,586.56 L446.0,585.53 L446.5,586.11 L447.0,586.68 L447.5,586.11 L448.0,586.54 L448.5,586.21 L449.0,585.56 L449.5,586.33 L450.0,586.72 L450.5,586.75 L451.0,586.12 L451.5,586.31 L452.0,586.23 L452.5,585.76 L453.0,586.35 L453.5,586.34 L454.0,586.87 L454.5,586.81 L455.0,586.48 L455.5,585.64 L456.0,585.59 L456.5,585.66 L457.0,586.74 L457.5,585.68 L458.0,585.59 L458.5,585.85 L459.0,585.75 L459.5,585.29 L460.0,585.33 L460.5,584.53 L461.0,584.41 L461.5,584.21 L462.0,584.21 L462.5,584.22 L463.0,583.63 L463.5,585.13 L464.0,584.60 L464.5,585.91 L465.0,585.15 L465.5,585.30 L466.0,585.56 L466.5,586.63 L467.0,585.90 L467.5,585.54 L468.0,586.08 L468.5,586.42 L469.0,586.35 L469.5,585.89 L470.0,585.88 L470.5,584.93 L471.0,585.52 L471.5,584.30 L472.0,583.18 L472.5,581.82 L473.0,581.86 L473.5,581.30 L474.0,580.52 L474.5,579.16 L475.0,579.43 L475.5,580.95 L476.0,579.82 L476.5,581.52 L477.0,579.92 L477.5,580.30 L478.0,580.62 L478.5,581.42 L479.0,581.16 L479.5,581.19 L480.0,580.53 L480.5,581.80 L481.0,581.51 L481.5,581.46 L482.0,579.71 L482.5,580.70 L483.0,579.30 L483.5,579.02 L484.0,580.72 L484.5,578.69 L485.0,576.96 L485.5,573.40 L486.0,573.71 L486.5,568.74 L487.0,571.32 L487.5,571.25 L488.0,573.79 L488.5,573.04 L489.0,570.04 L489.5,568.45 L490.0,572.53 L490.5,571.70 L491.0,574.80 L491.5,577.03 L492.0,573.87 L492.5,575.99 L493.0,577.78 L493.5,577.26 L494.0,579.18 L494.5,576.39 L495.0,580.44 L495.5,581.19 L496.0,583.04 L496.5,584.23 L497.0,585.32 L497.5,586.16 L498.0,585.38 L498.5,586.79 L499.0,585.69 L499.5,586.55 L500.0,586.50 L500.5,586.12 L501.0,586.77 L501.5,586.01 L502.0,586.81 L502.5,585.43 L503.0,585.86 L503.5,585.68 L504.0,586.88 L504.5,586.29 L505.0,585.80 L505.5,586.38 L506.0,586.57 L506.5,585.40 L507.0,586.15 L507.5,585.77 L508.0,585.96 L508.5,586.76 L509.0,586.66 L509.5,585.78 L510.0,585.49 L510.5,585.65 L511.0,586.25 L511.5,585.59 L511.5,587.40Z" fill="#000" stroke="#000" stroke-width="0.6"/>
<text x="476.3" y="599" font-size="9.02" text-anchor="start" font-weight="normal" fill="#1a1a1a" textLength="20" lengthAdjust="spacingAndGlyphs" >20 kb</text>
<line x1="460" y1="603.2" x2="512.3" y2="603.2" stroke="#555" stroke-width="1.8"/>
<rect x="0.5" y="0.5" width="519" height="610" fill="none" stroke="#000" stroke-width="1"/>
</svg></body></html>
